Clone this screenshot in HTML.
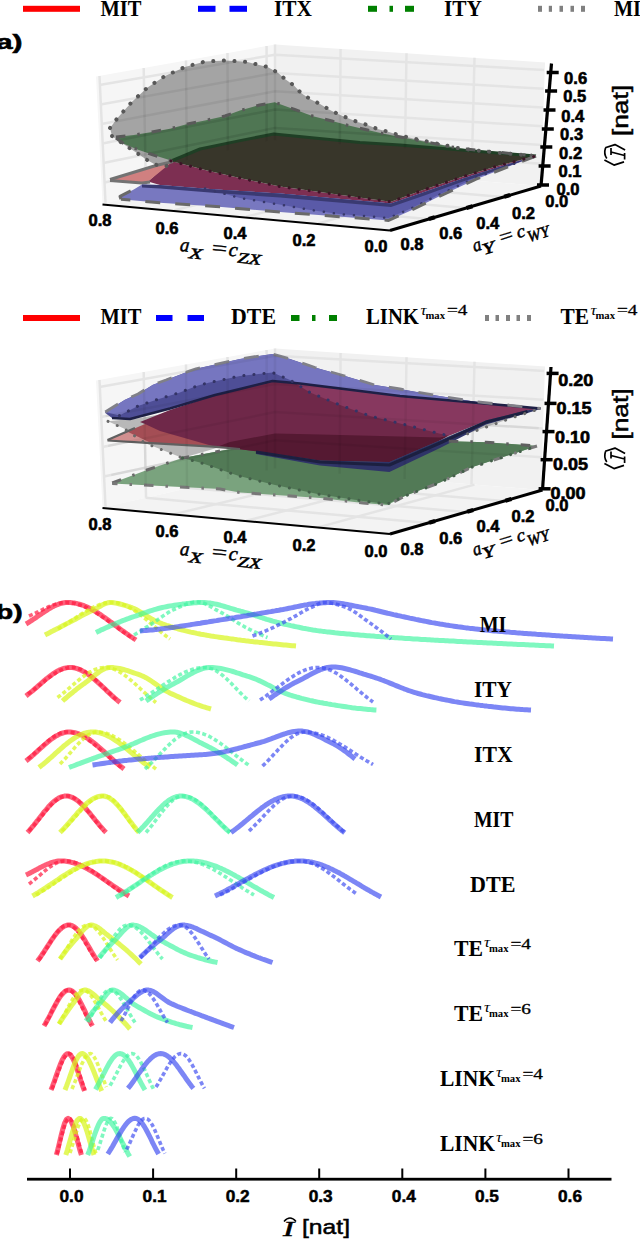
<!DOCTYPE html><html><head><meta charset="utf-8"><style>html,body{margin:0;padding:0;background:#fff;}svg{display:block;}</style></head><body>
<svg width="640" height="1240" viewBox="0 0 640 1240">
<rect x="0" y="0" width="640" height="1240" fill="#fff"/>
<rect x="23" y="5.8" width="57" height="6" fill="#ff0000"/>
<text x="100.5" y="15.5" font-family="Liberation Serif" font-weight="bold" font-size="24" textLength="41" lengthAdjust="spacingAndGlyphs">MIT</text>
<rect x="198" y="5.8" width="17.5" height="6" fill="#0000ff"/>
<rect x="229.5" y="5.8" width="17.5" height="6" fill="#0000ff"/>
<text x="274" y="15.5" font-family="Liberation Serif" font-weight="bold" font-size="24" textLength="38" lengthAdjust="spacingAndGlyphs">ITX</text>
<rect x="368" y="5.8" width="9" height="6" fill="#008000"/>
<rect x="389.5" y="5.8" width="3.5" height="6" fill="#008000"/>
<rect x="405" y="5.8" width="9" height="6" fill="#008000"/>
<text x="444" y="15.5" font-family="Liberation Serif" font-weight="bold" font-size="24" textLength="38" lengthAdjust="spacingAndGlyphs">ITY</text>
<rect x="538" y="5.8" width="4" height="6" fill="#808080"/>
<rect x="548.8" y="5.8" width="3.2" height="6" fill="#808080"/>
<rect x="559.5" y="5.8" width="3.5" height="6" fill="#808080"/>
<rect x="570.5" y="5.8" width="3.5" height="6" fill="#808080"/>
<rect x="581" y="5.8" width="4" height="6" fill="#808080"/>
<text x="614" y="15.5" font-family="Liberation Serif" font-weight="bold" font-size="24" textLength="27" lengthAdjust="spacingAndGlyphs">MI</text>
<rect x="23" y="315" width="57" height="6" fill="#ff0000"/>
<text x="100.5" y="324" font-family="Liberation Serif" font-weight="bold" font-size="24" textLength="41" lengthAdjust="spacingAndGlyphs">MIT</text>
<rect x="156" y="315" width="16.5" height="6" fill="#0000ff"/>
<rect x="187.5" y="315" width="16.5" height="6" fill="#0000ff"/>
<text x="231" y="324" font-family="Liberation Serif" font-weight="bold" font-size="24" textLength="45" lengthAdjust="spacingAndGlyphs">DTE</text>
<rect x="291" y="315" width="8.5" height="6" fill="#008000"/>
<rect x="312" y="315" width="3.5" height="6" fill="#008000"/>
<rect x="329" y="315" width="8" height="6" fill="#008000"/>
<text x="366" y="324" font-family="Liberation Serif" font-weight="bold" font-size="24" textLength="53" lengthAdjust="spacingAndGlyphs">LINK</text><text x="420.5" y="315" font-family="Liberation Serif" font-style="italic" font-size="14" textLength="6" lengthAdjust="spacingAndGlyphs">τ</text><text x="425.5" y="318.5" font-family="Liberation Serif" font-weight="bold" font-size="11" textLength="19.5" lengthAdjust="spacingAndGlyphs">max</text><text x="447" y="314.8" font-family="Liberation Serif" font-size="15" stroke="#000" stroke-width="0.3" textLength="20.5" lengthAdjust="spacingAndGlyphs">=4</text>
<rect x="485" y="315" width="4" height="6" fill="#808080"/>
<rect x="495.5" y="315" width="3.5" height="6" fill="#808080"/>
<rect x="506" y="315" width="4" height="6" fill="#808080"/>
<rect x="516.5" y="315" width="3.5" height="6" fill="#808080"/>
<rect x="527" y="315" width="4" height="6" fill="#808080"/>
<text x="560.5" y="324" font-family="Liberation Serif" font-weight="bold" font-size="24" textLength="28.5" lengthAdjust="spacingAndGlyphs">TE</text><text x="590.5" y="315" font-family="Liberation Serif" font-style="italic" font-size="14" textLength="6" lengthAdjust="spacingAndGlyphs">τ</text><text x="595.5" y="318.5" font-family="Liberation Serif" font-weight="bold" font-size="11" textLength="19.5" lengthAdjust="spacingAndGlyphs">max</text><text x="617" y="314.8" font-family="Liberation Serif" font-size="15" stroke="#000" stroke-width="0.3" textLength="20.5" lengthAdjust="spacingAndGlyphs">=4</text>
<text x="-4" y="49" font-family="Liberation Sans" font-weight="bold" font-size="21" stroke="#000" stroke-width="0.6" textLength="26.5" lengthAdjust="spacingAndGlyphs">a)</text>
<text x="-4" y="619" font-family="Liberation Sans" font-weight="bold" font-size="21" stroke="#000" stroke-width="0.6" textLength="26.5" lengthAdjust="spacingAndGlyphs">b)</text>
<polygon points="96,76.6 275,44.5 275,164.5 102.5,203.5" fill="#f6f6f6" stroke="none" stroke-width="0" />
<polygon points="275,44.5 545,62.5 541,186 275,164.5" fill="#f1f1f1" stroke="none" stroke-width="0" />
<polygon points="102.5,203.5 275,164.5 541,186 390,230" fill="#f3f3f3" stroke="none" stroke-width="0" />
<polyline points="99.5,76 105.5,202.8" fill="none" stroke="#e4e4e4" stroke-width="2.5" stroke-linecap="butt" stroke-linejoin="round" />
<polyline points="143.7,68 146,193.7" fill="none" stroke="#e4e4e4" stroke-width="2.5" stroke-linecap="butt" stroke-linejoin="round" />
<polyline points="186,60.5 187,184.4" fill="none" stroke="#e4e4e4" stroke-width="2.5" stroke-linecap="butt" stroke-linejoin="round" />
<polyline points="227.5,53 228,175.1" fill="none" stroke="#e4e4e4" stroke-width="2.5" stroke-linecap="butt" stroke-linejoin="round" />
<polyline points="266.6,46 266.6,166.4" fill="none" stroke="#e4e4e4" stroke-width="2.5" stroke-linecap="butt" stroke-linejoin="round" />
<polyline points="275,44.5 275,164.5" fill="none" stroke="#e4e4e4" stroke-width="2.5" stroke-linecap="butt" stroke-linejoin="round" />
<polyline points="340.6,48.9 339.6,169.7" fill="none" stroke="#e4e4e4" stroke-width="2.5" stroke-linecap="butt" stroke-linejoin="round" />
<polyline points="406.5,53.3 404.6,175" fill="none" stroke="#e4e4e4" stroke-width="2.5" stroke-linecap="butt" stroke-linejoin="round" />
<polyline points="474.5,57.8 471.5,180.4" fill="none" stroke="#e4e4e4" stroke-width="2.5" stroke-linecap="butt" stroke-linejoin="round" />
<polyline points="99.5,85 275,54.7 544,70" fill="none" stroke="#e4e4e4" stroke-width="2.5" stroke-linecap="butt" stroke-linejoin="round" />
<polyline points="100.5,104.5 275,73 543.5,88.8" fill="none" stroke="#e4e4e4" stroke-width="2.5" stroke-linecap="butt" stroke-linejoin="round" />
<polyline points="101.5,124 275,91.3 543,107.5" fill="none" stroke="#e4e4e4" stroke-width="2.5" stroke-linecap="butt" stroke-linejoin="round" />
<polyline points="102.4,143.5 275,109.6 542.5,126.2" fill="none" stroke="#e4e4e4" stroke-width="2.5" stroke-linecap="butt" stroke-linejoin="round" />
<polyline points="103.4,163 275,127.9 542,145" fill="none" stroke="#e4e4e4" stroke-width="2.5" stroke-linecap="butt" stroke-linejoin="round" />
<polyline points="104.4,182.5 275,146.2 541.6,163.8" fill="none" stroke="#e4e4e4" stroke-width="2.5" stroke-linecap="butt" stroke-linejoin="round" />
<polyline points="174.4,210.1 341.5,169.9" fill="none" stroke="#e4e4e4" stroke-width="2.5" stroke-linecap="butt" stroke-linejoin="round" />
<polyline points="145.6,193.8 427.8,219" fill="none" stroke="#e4e4e4" stroke-width="2.5" stroke-linecap="butt" stroke-linejoin="round" />
<polyline points="246.2,216.8 408,175.2" fill="none" stroke="#e4e4e4" stroke-width="2.5" stroke-linecap="butt" stroke-linejoin="round" />
<polyline points="188.8,184 465.5,208" fill="none" stroke="#e4e4e4" stroke-width="2.5" stroke-linecap="butt" stroke-linejoin="round" />
<polyline points="318.1,223.4 474.5,180.6" fill="none" stroke="#e4e4e4" stroke-width="2.5" stroke-linecap="butt" stroke-linejoin="round" />
<polyline points="231.9,174.2 503.2,197" fill="none" stroke="#e4e4e4" stroke-width="2.5" stroke-linecap="butt" stroke-linejoin="round" />
<polygon points="110,128 117.5,118 131.8,102 147.5,87.5 165,76 185,67 205,61.5 226,60.5 247.5,62 267.5,67 277.5,72.5 285,79 294,85.5 301,93 310,99 320,104 329,109.5 339,114.5 347.5,118 357.5,122 367.5,125 377.5,129 389,132 400,135.5 420,140 460,148.5 495,152.5 536,156 272,140 175,163 163,167 155,164.4 146.2,159.4 136.2,152.5 121.2,142.5 112,136" fill="#a4a4a4" stroke="none" stroke-width="0" />
<polygon points="116,137 133.8,135 152,131.9 170,128.8 187.5,124 205,120.5 225,116 240,110.6 259.7,105 274.7,102.2 295.3,109.7 313,116.2 332,121 348.8,125.6 367.5,130 385,134 400,137 460,148.5 536,156 536,156 400,145 360,142.5 273.8,134 240,140.6 200,149 172.5,160.5 171.2,160.5 155,155.6 137.5,149.4 123.8,143.8 116,138" fill="#4f7653" stroke="none" stroke-width="0" />
<polygon points="148,181.6 171,161 207,170.6 244,179 280,186.6 370,199 391,201.8 423,190 463,176.6 497.5,166 536,156 536,156 497.5,167.5 463,178.5 423,192.5 391,203.5 280,193.5 216,189.5 160,185" fill="#7d2f52" stroke="none" stroke-width="0" />
<polygon points="536,156 400,145 360,142.5 273.8,134 240,140.6 200,149 172.5,160.5 171,161 207,170.6 244,179 280,186.6 370,199 391,201.8 423,190 463,176.6 497.5,166 536,156" fill="#38362a" stroke="none" stroke-width="0" />
<polyline points="536,156 400,145 360,142.5 273.8,134 240,140.6 200,149 172.5,160.5" fill="none" stroke="#1f3f25" stroke-width="3" stroke-linecap="butt" stroke-linejoin="round" />
<polygon points="110,179.5 156,165.5 172,162 148,181.6 142,183" fill="#d08080" stroke="none" stroke-width="0" />
<polyline points="110,179.5 156,165.5 173,161.5" fill="none" stroke="#737373" stroke-width="3" stroke-linecap="butt" stroke-linejoin="round" />
<polyline points="110,180.5 142,183 150,182" fill="none" stroke="#737373" stroke-width="3" stroke-linecap="butt" stroke-linejoin="round" />
<polygon points="120,196.4 133.8,189.4 142,184.5 160,185 216,189.5 280,193.5 391,203.5 423,192.5 463,178.5 497.5,167.5 536,156 536,156 476,179.2 436.4,197.8 409.8,211 388.6,220.4 370,219 280,212 216,206.5 160,202.8 121,199.2" fill="#7878c0" stroke="none" stroke-width="0" />
<polygon points="160,185 216,189.5 280,193.5 391,203.5 423,192.5 463,178.5 497.5,167.5 536,156 536,156 476,177.5 436.4,196 409.8,209 388.6,218 370,216.5 339,214 307,209.4 285.6,205.6 240,198 205,188.5" fill="#5a5aa8" stroke="none" stroke-width="0" />
<polygon points="142,184.5 160,185 216,189.5 280,193.5 391,203.5 423,192.5 463,178.5 497.5,167.5 536,156 536,156 497.5,170 463,181.5 423,196 391,207 280,197.5 216,193 160,188.5 142,187.5" fill="#3a3a72" stroke="none" stroke-width="0" />
<polyline points="205,188.5 240,198 285.6,205.6 307,209.4 339,214 370,216.5 388.6,218 409.8,209 436.4,196 476,177.5 536,156" fill="none" stroke="#38386a" stroke-width="2.5" stroke-linecap="round" stroke-linejoin="round" stroke-dasharray="0.1 10" />
<clipPath id="cg"><polygon points="110,128 117.5,118 131.8,102 147.5,87.5 165,76 185,67 205,61.5 226,60.5 247.5,62 267.5,67 277.5,72.5 285,79 294,85.5 301,93 310,99 320,104 329,109.5 339,114.5 347.5,118 357.5,122 367.5,125 377.5,129 389,132 400,135.5 420,140 460,148.5 495,152.5 536,156 272,140 175,163 163,167 155,164.4 146.2,159.4 136.2,152.5 121.2,142.5 112,136"/></clipPath>
<clipPath id="cgr"><polygon points="116,137 133.8,135 152,131.9 170,128.8 187.5,124 205,120.5 225,116 240,110.6 259.7,105 274.7,102.2 295.3,109.7 313,116.2 332,121 348.8,125.6 367.5,130 385,134 400,137 460,148.5 536,156 536,156 400,145 360,142.5 273.8,134 240,140.6 200,149 172.5,160.5 171.2,160.5 155,155.6 137.5,149.4 123.8,143.8 116,138"/></clipPath>
<g clip-path="url(#cg)" stroke="#000" stroke-opacity="0.06" stroke-width="2.5" fill="none">
<polyline points="99.5,76 105.5,202.8"/>
<polyline points="143.7,68 146,193.7"/>
<polyline points="186,60.5 187,184.4"/>
<polyline points="227.5,53 228,175.1"/>
<polyline points="266.6,46 266.6,166.4"/>
<polyline points="275,44.5 275,164.5"/>
<polyline points="340.6,48.9 339.6,169.7"/>
<polyline points="406.5,53.3 404.6,175"/>
<polyline points="474.5,57.8 471.5,180.4"/>
<polyline points="99.5,85 275,54.7 544,70"/>
<polyline points="100.5,104.5 275,73 543.5,88.8"/>
<polyline points="101.5,124 275,91.3 543,107.5"/>
<polyline points="102.4,143.5 275,109.6 542.5,126.2"/>
<polyline points="103.4,163 275,127.9 542,145"/>
<polyline points="104.4,182.5 275,146.2 541.6,163.8"/>
</g>
<g clip-path="url(#cgr)" stroke="#000" stroke-opacity="0.035" stroke-width="2.5" fill="none">
<polyline points="99.5,76 105.5,202.8"/>
<polyline points="143.7,68 146,193.7"/>
<polyline points="186,60.5 187,184.4"/>
<polyline points="227.5,53 228,175.1"/>
<polyline points="266.6,46 266.6,166.4"/>
<polyline points="275,44.5 275,164.5"/>
<polyline points="340.6,48.9 339.6,169.7"/>
<polyline points="406.5,53.3 404.6,175"/>
<polyline points="474.5,57.8 471.5,180.4"/>
<polyline points="99.5,85 275,54.7 544,70"/>
<polyline points="100.5,104.5 275,73 543.5,88.8"/>
<polyline points="101.5,124 275,91.3 543,107.5"/>
<polyline points="102.4,143.5 275,109.6 542.5,126.2"/>
<polyline points="103.4,163 275,127.9 542,145"/>
<polyline points="104.4,182.5 275,146.2 541.6,163.8"/>
</g>
<polyline points="110,128 117.5,118 131.8,102 147.5,87.5 165,76 185,67 205,61.5 226,60.5 247.5,62 267.5,67 277.5,72.5 285,79 294,85.5 301,93 310,99 320,104 329,109.5 339,114.5 347.5,118 357.5,122 367.5,125 377.5,129 389,132 400,135.5 420,140 460,148.5 495,152.5 536,156" fill="none" stroke="#585858" stroke-width="4" stroke-linecap="round" stroke-linejoin="round" stroke-dasharray="0.1 10.5" />
<polyline points="112,136 121.2,142.5 136.2,152.5 146.2,159.4 155,164.4 163,167 175,163" fill="none" stroke="#585858" stroke-width="4" stroke-linecap="round" stroke-linejoin="round" stroke-dasharray="0.1 10.5" />
<polyline points="116,137 133.8,135 152,131.9 170,128.8 187.5,124 205,120.5 225,116 240,110.6 259.7,105 274.7,102.2 295.3,109.7 313,116.2 332,121 348.8,125.6 367.5,130 385,134 400,137 460,148.5 536,156" fill="none" stroke="#5a5a5a" stroke-width="3" stroke-linecap="butt" stroke-linejoin="round" stroke-dasharray="9.5 12 2.5 12" />
<polyline points="116,138 123.8,143.8 137.5,149.4 155,155.6 171.2,160.5" fill="none" stroke="#5a5a5a" stroke-width="3" stroke-linecap="butt" stroke-linejoin="round" stroke-dasharray="9.5 12 2.5 12" />
<polyline points="536,156 476,179.2 436.4,197.8 409.8,211 388.6,220.4 370,219 280,212 216,206.5 160,202.8 121,199.2" fill="none" stroke="#6a6a6a" stroke-width="3" stroke-linecap="butt" stroke-linejoin="round" stroke-dasharray="15 15" />
<polyline points="121,199.2 120,196.4 133.8,189.4" fill="none" stroke="#6a6a6a" stroke-width="3" stroke-linecap="butt" stroke-linejoin="round" stroke-dasharray="15 15" />
<polyline points="171,161 207,170.6 244,179 280,186.6 370,199 391,201.8 423,190 463,176.6 497.5,166 536,156" fill="none" stroke="#3c1426" stroke-width="3" stroke-linecap="round" stroke-linejoin="round" stroke-dasharray="0.1 10" />
<polyline points="102.5,204.5 390,230.5" fill="none" stroke="#000" stroke-width="2" stroke-linecap="butt" stroke-linejoin="round" />
<polyline points="390,230.5 541,186" fill="none" stroke="#000" stroke-width="3" stroke-linecap="butt" stroke-linejoin="round" />
<polyline points="541,186 551.5,63.5" fill="none" stroke="#000" stroke-width="3.2" stroke-linecap="butt" stroke-linejoin="round" />
<polyline points="537,185 549,185" fill="none" stroke="#000" stroke-width="3.5" stroke-linecap="butt" stroke-linejoin="round" />
<polyline points="538.6,166 550.6,166" fill="none" stroke="#000" stroke-width="3.5" stroke-linecap="butt" stroke-linejoin="round" />
<polyline points="540.3,147 552.3,147" fill="none" stroke="#000" stroke-width="3.5" stroke-linecap="butt" stroke-linejoin="round" />
<polyline points="541.8,129 553.8,129" fill="none" stroke="#000" stroke-width="3.5" stroke-linecap="butt" stroke-linejoin="round" />
<polyline points="543.5,110 555.5,110" fill="none" stroke="#000" stroke-width="3.5" stroke-linecap="butt" stroke-linejoin="round" />
<polyline points="545.1,91 557.1,91" fill="none" stroke="#000" stroke-width="3.5" stroke-linecap="butt" stroke-linejoin="round" />
<polyline points="546.7,72.5 558.7,72.5" fill="none" stroke="#000" stroke-width="3.5" stroke-linecap="butt" stroke-linejoin="round" />
<polyline points="428.8,219.1 434.8,217.3" fill="none" stroke="#000" stroke-width="4.2" stroke-linecap="butt" stroke-linejoin="round" />
<polyline points="466.5,207.9 472.5,206.2" fill="none" stroke="#000" stroke-width="4.2" stroke-linecap="butt" stroke-linejoin="round" />
<polyline points="504.2,196.8 510.2,195" fill="none" stroke="#000" stroke-width="4.2" stroke-linecap="butt" stroke-linejoin="round" />
<text x="100" y="226" font-family="Liberation Sans" font-weight="bold" font-size="16.5" text-anchor="middle" stroke="#000" stroke-width="0.6" textLength="23" lengthAdjust="spacingAndGlyphs">0.8</text>
<text x="167" y="233.5" font-family="Liberation Sans" font-weight="bold" font-size="16.5" text-anchor="middle" stroke="#000" stroke-width="0.6" textLength="23" lengthAdjust="spacingAndGlyphs">0.6</text>
<text x="235" y="239" font-family="Liberation Sans" font-weight="bold" font-size="16.5" text-anchor="middle" stroke="#000" stroke-width="0.6" textLength="23" lengthAdjust="spacingAndGlyphs">0.4</text>
<text x="304" y="246" font-family="Liberation Sans" font-weight="bold" font-size="16.5" text-anchor="middle" stroke="#000" stroke-width="0.6" textLength="23" lengthAdjust="spacingAndGlyphs">0.2</text>
<text x="376" y="252" font-family="Liberation Sans" font-weight="bold" font-size="16.5" text-anchor="middle" stroke="#000" stroke-width="0.6" textLength="23" lengthAdjust="spacingAndGlyphs">0.0</text>
<text x="412" y="250" font-family="Liberation Sans" font-weight="bold" font-size="16.5" text-anchor="middle" stroke="#000" stroke-width="0.6" textLength="23" lengthAdjust="spacingAndGlyphs">0.8</text>
<text x="450.8" y="238.5" font-family="Liberation Sans" font-weight="bold" font-size="16.5" text-anchor="middle" stroke="#000" stroke-width="0.6" textLength="23" lengthAdjust="spacingAndGlyphs">0.6</text>
<text x="487.8" y="228.5" font-family="Liberation Sans" font-weight="bold" font-size="16.5" text-anchor="middle" stroke="#000" stroke-width="0.6" textLength="23" lengthAdjust="spacingAndGlyphs">0.4</text>
<text x="523.5" y="218.5" font-family="Liberation Sans" font-weight="bold" font-size="16.5" text-anchor="middle" stroke="#000" stroke-width="0.6" textLength="23" lengthAdjust="spacingAndGlyphs">0.2</text>
<text x="556.8" y="207" font-family="Liberation Sans" font-weight="bold" font-size="16.5" text-anchor="middle" stroke="#000" stroke-width="0.6" textLength="23" lengthAdjust="spacingAndGlyphs">0.0</text>
<text x="575.6" y="84" font-family="Liberation Sans" font-weight="bold" font-size="16.5" text-anchor="middle" stroke="#000" stroke-width="0.6" textLength="23" lengthAdjust="spacingAndGlyphs">0.6</text>
<text x="574.8" y="102" font-family="Liberation Sans" font-weight="bold" font-size="16.5" text-anchor="middle" stroke="#000" stroke-width="0.6" textLength="23" lengthAdjust="spacingAndGlyphs">0.5</text>
<text x="572.8" y="122" font-family="Liberation Sans" font-weight="bold" font-size="16.5" text-anchor="middle" stroke="#000" stroke-width="0.6" textLength="23" lengthAdjust="spacingAndGlyphs">0.4</text>
<text x="571.6" y="140" font-family="Liberation Sans" font-weight="bold" font-size="16.5" text-anchor="middle" stroke="#000" stroke-width="0.6" textLength="23" lengthAdjust="spacingAndGlyphs">0.3</text>
<text x="570.6" y="158.5" font-family="Liberation Sans" font-weight="bold" font-size="16.5" text-anchor="middle" stroke="#000" stroke-width="0.6" textLength="23" lengthAdjust="spacingAndGlyphs">0.2</text>
<text x="570" y="177" font-family="Liberation Sans" font-weight="bold" font-size="16.5" text-anchor="middle" stroke="#000" stroke-width="0.6" textLength="23" lengthAdjust="spacingAndGlyphs">0.1</text>
<text x="568" y="195" font-family="Liberation Sans" font-weight="bold" font-size="16.5" text-anchor="middle" stroke="#000" stroke-width="0.6" textLength="23" lengthAdjust="spacingAndGlyphs">0.0</text>
<g transform="translate(179.5,251) rotate(5.5)">
<text x="0" y="0" font-family="Liberation Serif" font-style="italic" font-size="20" stroke="#000" stroke-width="0.5" textLength="9.4" lengthAdjust="spacingAndGlyphs">a</text>
<text x="9.6" y="6" font-family="Liberation Serif" font-style="italic" font-size="15" stroke="#000" stroke-width="0.5" textLength="13.5" lengthAdjust="spacingAndGlyphs">X</text>
<text x="32" y="0" font-family="Liberation Serif" font-style="normal" font-size="20" stroke="#000" stroke-width="0.3" textLength="15.5" lengthAdjust="spacingAndGlyphs">=</text>
<text x="49" y="0" font-family="Liberation Serif" font-style="italic" font-size="20" stroke="#000" stroke-width="0.5" textLength="9" lengthAdjust="spacingAndGlyphs">c</text>
<text x="58.3" y="6" font-family="Liberation Serif" font-style="italic" font-size="15" stroke="#000" stroke-width="0.5" textLength="24" lengthAdjust="spacingAndGlyphs">ZX</text>
</g>
<g transform="translate(474.5,250.5) rotate(-17.5)">
<text x="-0.5" y="1.5" font-family="Liberation Serif" font-style="italic" font-size="19" stroke="#000" stroke-width="0.5" textLength="8.5" lengthAdjust="spacingAndGlyphs">a</text>
<text x="7.5" y="7" font-family="Liberation Serif" font-style="italic" font-size="16" stroke="#000" stroke-width="0.5" textLength="13" lengthAdjust="spacingAndGlyphs">Y</text>
<text x="27.5" y="2" font-family="Liberation Serif" font-style="normal" font-size="20" stroke="#000" stroke-width="0.3" textLength="14" lengthAdjust="spacingAndGlyphs">=</text>
<text x="45.5" y="1.5" font-family="Liberation Serif" font-style="italic" font-size="18" stroke="#000" stroke-width="0.5" textLength="8.5" lengthAdjust="spacingAndGlyphs">c</text>
<text x="54.5" y="8.5" font-family="Liberation Serif" font-style="italic" font-size="16" stroke="#000" stroke-width="0.5" textLength="22.5" lengthAdjust="spacingAndGlyphs">WY</text>
</g>
<g transform="translate(627.5,136) rotate(-90)">
<text x="0" y="0" font-family="Liberation Sans" font-size="22" stroke="#000" stroke-width="0.5" textLength="51" lengthAdjust="spacingAndGlyphs">[nat]</text>
</g>
<g transform="translate(0,0)" fill="none" stroke="#000" stroke-width="1.7" stroke-linejoin="round">
<path d="M605.2,147.8 L615,144.6 L625.1,150 M605.5,148 Q603.5,154 606.8,158.5 M604.4,160 L614,165.1 L624,161.9 M611,148 L611,155 M611,152 L624.6,155.5 M624.6,153 L624.6,159.5"/>
</g>
<polygon points="96,380.6 275,348.5 275,468.5 102.5,507.5" fill="#f6f6f6" stroke="none" stroke-width="0" />
<polygon points="275,348.5 545,366.5 541,490 275,468.5" fill="#f1f1f1" stroke="none" stroke-width="0" />
<polygon points="102.5,507.5 275,468.5 541,490 390,534" fill="#f3f3f3" stroke="none" stroke-width="0" />
<polyline points="99.5,380 105.5,506.8" fill="none" stroke="#e4e4e4" stroke-width="2.5" stroke-linecap="butt" stroke-linejoin="round" />
<polyline points="143.7,372 146,497.7" fill="none" stroke="#e4e4e4" stroke-width="2.5" stroke-linecap="butt" stroke-linejoin="round" />
<polyline points="186,364.5 187,488.4" fill="none" stroke="#e4e4e4" stroke-width="2.5" stroke-linecap="butt" stroke-linejoin="round" />
<polyline points="227.5,357 228,479.1" fill="none" stroke="#e4e4e4" stroke-width="2.5" stroke-linecap="butt" stroke-linejoin="round" />
<polyline points="266.6,350 266.6,470.4" fill="none" stroke="#e4e4e4" stroke-width="2.5" stroke-linecap="butt" stroke-linejoin="round" />
<polyline points="275,348.5 275,468.5" fill="none" stroke="#e4e4e4" stroke-width="2.5" stroke-linecap="butt" stroke-linejoin="round" />
<polyline points="340.6,352.9 339.6,473.7" fill="none" stroke="#e4e4e4" stroke-width="2.5" stroke-linecap="butt" stroke-linejoin="round" />
<polyline points="406.5,357.3 404.6,479" fill="none" stroke="#e4e4e4" stroke-width="2.5" stroke-linecap="butt" stroke-linejoin="round" />
<polyline points="474.5,361.8 471.5,484.4" fill="none" stroke="#e4e4e4" stroke-width="2.5" stroke-linecap="butt" stroke-linejoin="round" />
<polyline points="99.4,387 275,355.7 544.1,370.9" fill="none" stroke="#e4e4e4" stroke-width="2.5" stroke-linecap="butt" stroke-linejoin="round" />
<polyline points="100.9,417 275,383.9 543.3,399.7" fill="none" stroke="#e4e4e4" stroke-width="2.5" stroke-linecap="butt" stroke-linejoin="round" />
<polyline points="102.4,447 275,412.1 542.6,428.4" fill="none" stroke="#e4e4e4" stroke-width="2.5" stroke-linecap="butt" stroke-linejoin="round" />
<polyline points="103.9,476.5 275,440.3 541.8,457.2" fill="none" stroke="#e4e4e4" stroke-width="2.5" stroke-linecap="butt" stroke-linejoin="round" />
<polyline points="174.4,514.1 341.5,473.9" fill="none" stroke="#e4e4e4" stroke-width="2.5" stroke-linecap="butt" stroke-linejoin="round" />
<polyline points="145.6,497.8 427.8,523" fill="none" stroke="#e4e4e4" stroke-width="2.5" stroke-linecap="butt" stroke-linejoin="round" />
<polyline points="246.2,520.8 408,479.2" fill="none" stroke="#e4e4e4" stroke-width="2.5" stroke-linecap="butt" stroke-linejoin="round" />
<polyline points="188.8,488 465.5,512" fill="none" stroke="#e4e4e4" stroke-width="2.5" stroke-linecap="butt" stroke-linejoin="round" />
<polyline points="318.1,527.4 474.5,484.6" fill="none" stroke="#e4e4e4" stroke-width="2.5" stroke-linecap="butt" stroke-linejoin="round" />
<polyline points="231.9,478.2 503.2,501" fill="none" stroke="#e4e4e4" stroke-width="2.5" stroke-linecap="butt" stroke-linejoin="round" />
<polygon points="112.2,483 147,470 182.5,458 220,451 240,447.5 300,444 400,440 448.8,441.2 486,442.2 537,446 537,446 471,467.5 440,482.5 406,495.6 387.5,505 363,503 320,498 240,492.5 220,489 112.2,483.5" fill="#7aa37e" stroke="none" stroke-width="0" />
<polygon points="108,421.3 140,418 240,400 540.6,408.4 514.4,417 467.5,433.8 440,442 389,462 320,461 256,451 220,447 182.5,458 145,443 124.4,428.8" fill="#b8b8b8" stroke="none" stroke-width="0" />
<polygon points="182.5,458 200,462.5 237.5,475.6 275,485 320,494.4 363,501 387.5,504 406,495.6 440,482.5 471,467.5 537,446 537,446 486,442.2 448.8,441.2 400,440 300,444 240,447.5 220,451" fill="#527a56" stroke="none" stroke-width="0" />
<polygon points="107.5,440 145,424 220,410 300,400 300,447 212.5,446.6 147,442.8" fill="#a44e55" stroke="none" stroke-width="0" />
<polygon points="107.5,440 128,432 150,442.5 130,442" fill="#d29090" stroke="none" stroke-width="0" />
<polygon points="140,422 170,410 215,395 240,389 272.5,381 400,396 540.6,408.4 540.6,408.4 527.5,410.3 486,420.6 448.8,435.6 440,440.3 389.4,462 320,460.6 256,451.2 218.8,446.6 212.5,446 160,431 145,424" fill="#6f2849" stroke="none" stroke-width="0" />
<polygon points="218,446.5 230,442 275,433.4 320,434.5 440,437.5 448,436 440,440.3 389.4,462 320,460.6 256,451.2" fill="#551932" stroke="none" stroke-width="0" />
<polygon points="272.5,381 400,396 540.6,408.4 527.5,410.3 486,420.6 448.8,435.6 448.8,435.6 440,433.8 404,424.4 370,416 340,405 310,392.5 290,380" fill="#87385f" stroke="none" stroke-width="0" />
<polygon points="256,451.2 320,460.6 389.4,462 440,440.3 486,420.6 527.5,410.3 540.6,408.4 540.6,409 527.5,413 486,424.5 440,448 389.4,472 320,465.5 256,454" fill="#2f3468" stroke="none" stroke-width="0" />
<polyline points="256,452 320,462 389.4,465 440,443 486,422 527.5,411.5" fill="none" stroke="#1c2040" stroke-width="3" stroke-linecap="butt" stroke-linejoin="round" />
<polygon points="105.3,412 125,399.7 138,394 153,384.7 166,380 183,373.4 196,368.8 213,365 240,359 272.5,354 290,359 315,367.5 345,376 375,385 400,389 430,394.4 477,401.9 540.6,408.4 540.6,408.4 400,396 300,383.5 272.5,381 240,389 215,395 170,408.5 130,419 112,418 105.3,413" fill="#4e4e96" stroke="none" stroke-width="0" />
<polygon points="105.3,412 125,399.7 138,394 153,384.7 166,380 183,373.4 196,368.8 213,365 240,359 272.5,354 290,359 315,367.5 345,376 375,385 400,389 430,394.4 477,401.9 540.6,408.4 400,396 300,383.5 290,380 272.5,372.5 240,376 208.5,382.8 198,385.6 178.5,393 158.8,399 138,406 119.4,415.6" fill="#7676c0" stroke="none" stroke-width="0" />
<polyline points="540.6,408.4 400,396 300,383.5 272.5,381 240,389 215,395 170,408.5 130,419 112,418" fill="none" stroke="#1e2046" stroke-width="2.5" stroke-linecap="butt" stroke-linejoin="round" />
<polyline points="105.3,412 125,399.7 138,394 153,384.7 166,380 183,373.4 196,368.8 213,365 240,359 272.5,354 290,359 315,367.5 345,376 375,385 400,389 430,394.4 477,401.9 540.6,408.4" fill="none" stroke="#808088" stroke-width="2.8" stroke-linecap="butt" stroke-linejoin="round" stroke-dasharray="15 15" />
<polyline points="119.4,415.6 138,406 158.8,399 178.5,393 198,385.6 208.5,382.8 240,376 272.5,372.5 290,380 310,392.5 340,405 370,416 404,424.4 440,433.8 448.8,435.6" fill="none" stroke="#343466" stroke-width="3" stroke-linecap="round" stroke-linejoin="round" stroke-dasharray="0.1 10" />
<polyline points="107.5,440 135,428" fill="none" stroke="#606060" stroke-width="2.2" stroke-linecap="butt" stroke-linejoin="round" />
<polyline points="107.5,440.5 147,442.8 212.5,446.6 240,449" fill="none" stroke="#606060" stroke-width="2.2" stroke-linecap="butt" stroke-linejoin="round" />
<polyline points="112.2,483 147,470 182.5,458 220,451" fill="none" stroke="#6a6a6a" stroke-width="3" stroke-linecap="butt" stroke-linejoin="round" stroke-dasharray="9.5 12 2.5 12" />
<polyline points="448.8,441.2 486,442.2 537,446" fill="none" stroke="#606060" stroke-width="3" stroke-linecap="butt" stroke-linejoin="round" stroke-dasharray="9.5 12 2.5 12" />
<polyline points="537,446 471,467.5 440,482.5 406,495.6 387.5,505 363,503 320,498 240,492.5 220,489 112.2,483.5" fill="none" stroke="#787878" stroke-width="3" stroke-linecap="butt" stroke-linejoin="round" stroke-dasharray="9.5 12 2.5 12" />
<polyline points="108,421.3 124.4,428.8 145,443 182.5,458" fill="none" stroke="#6a6a6a" stroke-width="3" stroke-linecap="round" stroke-linejoin="round" stroke-dasharray="0.1 10" />
<polyline points="182.5,458 200,462.5 237.5,475.6 275,485 320,494.4 363,501 387.5,504 406,495.6 440,482.5 471,467.5 537,446" fill="none" stroke="#44604a" stroke-width="3" stroke-linecap="round" stroke-linejoin="round" stroke-dasharray="0.1 10" />
<polyline points="467.5,433.8 514.4,417 540.6,408.4" fill="none" stroke="#6a6a6a" stroke-width="3" stroke-linecap="round" stroke-linejoin="round" stroke-dasharray="0.1 10" />
<clipPath id="cb"><polygon points="105.3,412 125,399.7 138,394 153,384.7 166,380 183,373.4 196,368.8 213,365 240,359 272.5,354 290,359 315,367.5 345,376 375,385 400,389 430,394.4 477,401.9 540.6,408.4 537,446 471,467.5 440,482.5 406,495.6 387.5,505 363,503 320,498 240,492.5 220,489 112.2,483.5 107.5,440 105.3,412"/></clipPath>
<g clip-path="url(#cb)" stroke="#000" stroke-opacity="0.05" stroke-width="2.5" fill="none">
<polyline points="99.5,380 105.5,506.8"/>
<polyline points="143.7,372 146,497.7"/>
<polyline points="186,364.5 187,488.4"/>
<polyline points="227.5,357 228,479.1"/>
<polyline points="266.6,350 266.6,470.4"/>
<polyline points="275,348.5 275,468.5"/>
<polyline points="340.6,352.9 339.6,473.7"/>
<polyline points="406.5,357.3 404.6,479"/>
<polyline points="474.5,361.8 471.5,484.4"/>
<polyline points="99.4,387 275,355.7 544.1,370.9"/>
<polyline points="100.9,417 275,383.9 543.3,399.7"/>
<polyline points="102.4,447 275,412.1 542.6,428.4"/>
<polyline points="103.9,476.5 275,440.3 541.8,457.2"/>
</g>
<polyline points="102.5,508 390,534" fill="none" stroke="#000" stroke-width="2" stroke-linecap="butt" stroke-linejoin="round" />
<polyline points="390,534 542.5,490" fill="none" stroke="#000" stroke-width="3" stroke-linecap="butt" stroke-linejoin="round" />
<polyline points="542.5,490 551,367" fill="none" stroke="#000" stroke-width="3.2" stroke-linecap="butt" stroke-linejoin="round" />
<polyline points="538.6,488.8 550.6,488.8" fill="none" stroke="#000" stroke-width="3.5" stroke-linecap="butt" stroke-linejoin="round" />
<polyline points="540.6,459.7 552.6,459.7" fill="none" stroke="#000" stroke-width="3.5" stroke-linecap="butt" stroke-linejoin="round" />
<polyline points="542.5,431.6 554.5,431.6" fill="none" stroke="#000" stroke-width="3.5" stroke-linecap="butt" stroke-linejoin="round" />
<polyline points="544.5,403.4 556.5,403.4" fill="none" stroke="#000" stroke-width="3.5" stroke-linecap="butt" stroke-linejoin="round" />
<polyline points="546.6,373.4 558.6,373.4" fill="none" stroke="#000" stroke-width="3.5" stroke-linecap="butt" stroke-linejoin="round" />
<polyline points="429.1,522.7 435.1,520.9" fill="none" stroke="#000" stroke-width="4.2" stroke-linecap="butt" stroke-linejoin="round" />
<polyline points="467.2,511.7 473.2,509.9" fill="none" stroke="#000" stroke-width="4.2" stroke-linecap="butt" stroke-linejoin="round" />
<polyline points="505.4,500.7 511.4,498.9" fill="none" stroke="#000" stroke-width="4.2" stroke-linecap="butt" stroke-linejoin="round" />
<text x="100" y="530" font-family="Liberation Sans" font-weight="bold" font-size="16.5" text-anchor="middle" stroke="#000" stroke-width="0.6" textLength="23" lengthAdjust="spacingAndGlyphs">0.8</text>
<text x="167" y="537" font-family="Liberation Sans" font-weight="bold" font-size="16.5" text-anchor="middle" stroke="#000" stroke-width="0.6" textLength="23" lengthAdjust="spacingAndGlyphs">0.6</text>
<text x="235" y="543" font-family="Liberation Sans" font-weight="bold" font-size="16.5" text-anchor="middle" stroke="#000" stroke-width="0.6" textLength="23" lengthAdjust="spacingAndGlyphs">0.4</text>
<text x="304" y="551" font-family="Liberation Sans" font-weight="bold" font-size="16.5" text-anchor="middle" stroke="#000" stroke-width="0.6" textLength="23" lengthAdjust="spacingAndGlyphs">0.2</text>
<text x="376" y="557" font-family="Liberation Sans" font-weight="bold" font-size="16.5" text-anchor="middle" stroke="#000" stroke-width="0.6" textLength="23" lengthAdjust="spacingAndGlyphs">0.0</text>
<text x="412" y="555" font-family="Liberation Sans" font-weight="bold" font-size="16.5" text-anchor="middle" stroke="#000" stroke-width="0.6" textLength="23" lengthAdjust="spacingAndGlyphs">0.8</text>
<text x="450.8" y="543.5" font-family="Liberation Sans" font-weight="bold" font-size="16.5" text-anchor="middle" stroke="#000" stroke-width="0.6" textLength="23" lengthAdjust="spacingAndGlyphs">0.6</text>
<text x="488" y="532" font-family="Liberation Sans" font-weight="bold" font-size="16.5" text-anchor="middle" stroke="#000" stroke-width="0.6" textLength="23" lengthAdjust="spacingAndGlyphs">0.4</text>
<text x="523" y="522" font-family="Liberation Sans" font-weight="bold" font-size="16.5" text-anchor="middle" stroke="#000" stroke-width="0.6" textLength="23" lengthAdjust="spacingAndGlyphs">0.2</text>
<text x="557" y="511" font-family="Liberation Sans" font-weight="bold" font-size="16.5" text-anchor="middle" stroke="#000" stroke-width="0.6" textLength="23" lengthAdjust="spacingAndGlyphs">0.0</text>
<text x="575.7" y="386" font-family="Liberation Sans" font-weight="bold" font-size="16.5" text-anchor="middle" stroke="#000" stroke-width="0.6" textLength="35" lengthAdjust="spacingAndGlyphs">0.20</text>
<text x="574" y="414" font-family="Liberation Sans" font-weight="bold" font-size="16.5" text-anchor="middle" stroke="#000" stroke-width="0.6" textLength="35" lengthAdjust="spacingAndGlyphs">0.15</text>
<text x="572.5" y="443" font-family="Liberation Sans" font-weight="bold" font-size="16.5" text-anchor="middle" stroke="#000" stroke-width="0.6" textLength="35" lengthAdjust="spacingAndGlyphs">0.10</text>
<text x="570.5" y="470" font-family="Liberation Sans" font-weight="bold" font-size="16.5" text-anchor="middle" stroke="#000" stroke-width="0.6" textLength="35" lengthAdjust="spacingAndGlyphs">0.05</text>
<text x="568" y="498.5" font-family="Liberation Sans" font-weight="bold" font-size="16.5" text-anchor="middle" stroke="#000" stroke-width="0.6" textLength="35" lengthAdjust="spacingAndGlyphs">0.00</text>
<g transform="translate(179.5,555) rotate(5.5)">
<text x="0" y="0" font-family="Liberation Serif" font-style="italic" font-size="20" stroke="#000" stroke-width="0.5" textLength="9.4" lengthAdjust="spacingAndGlyphs">a</text>
<text x="9.6" y="6" font-family="Liberation Serif" font-style="italic" font-size="15" stroke="#000" stroke-width="0.5" textLength="13.5" lengthAdjust="spacingAndGlyphs">X</text>
<text x="32" y="0" font-family="Liberation Serif" font-style="normal" font-size="20" stroke="#000" stroke-width="0.3" textLength="15.5" lengthAdjust="spacingAndGlyphs">=</text>
<text x="49" y="0" font-family="Liberation Serif" font-style="italic" font-size="20" stroke="#000" stroke-width="0.5" textLength="9" lengthAdjust="spacingAndGlyphs">c</text>
<text x="58.3" y="6" font-family="Liberation Serif" font-style="italic" font-size="15" stroke="#000" stroke-width="0.5" textLength="24" lengthAdjust="spacingAndGlyphs">ZX</text>
</g>
<g transform="translate(474.5,554.5) rotate(-17.5)">
<text x="-0.5" y="1.5" font-family="Liberation Serif" font-style="italic" font-size="19" stroke="#000" stroke-width="0.5" textLength="8.5" lengthAdjust="spacingAndGlyphs">a</text>
<text x="7.5" y="7" font-family="Liberation Serif" font-style="italic" font-size="16" stroke="#000" stroke-width="0.5" textLength="13" lengthAdjust="spacingAndGlyphs">Y</text>
<text x="27.5" y="2" font-family="Liberation Serif" font-style="normal" font-size="20" stroke="#000" stroke-width="0.3" textLength="14" lengthAdjust="spacingAndGlyphs">=</text>
<text x="45.5" y="1.5" font-family="Liberation Serif" font-style="italic" font-size="18" stroke="#000" stroke-width="0.5" textLength="8.5" lengthAdjust="spacingAndGlyphs">c</text>
<text x="54.5" y="8.5" font-family="Liberation Serif" font-style="italic" font-size="16" stroke="#000" stroke-width="0.5" textLength="22.5" lengthAdjust="spacingAndGlyphs">WY</text>
</g>
<g transform="translate(627.5,439.5) rotate(-90)">
<text x="0" y="0" font-family="Liberation Sans" font-size="22" stroke="#000" stroke-width="0.5" textLength="51" lengthAdjust="spacingAndGlyphs">[nat]</text>
</g>
<g transform="translate(0,303.5)" fill="none" stroke="#000" stroke-width="1.7" stroke-linejoin="round">
<path d="M605.2,147.8 L615,144.6 L625.1,150 M605.5,148 Q603.5,154 606.8,158.5 M604.4,160 L614,165.1 L624,161.9 M611,148 L611,155 M611,152 L624.6,155.5 M624.6,153 L624.6,159.5"/>
</g>
<polyline points="26,624 27.5,623.1 29.1,622.1 30.6,621.2 32.1,620.2 33.6,619.1 35.2,618.1 36.7,617.1 38.2,616 39.8,614.9 41.3,613.9 42.8,612.8 44.3,611.8 45.9,610.8 47.4,609.8 48.9,608.9 50.4,608 52,607.1 53.5,606.4 55,605.6 56.6,605 58.1,604.4 59.6,603.8 61.1,603.4 62.7,603 64.2,602.8 65.7,602.6 67.2,602.5 68.8,602.5 70.3,602.6 71.8,602.7 73.4,602.9 74.9,603.1 76.4,603.4 77.9,603.8 79.5,604.2 81,604.6 82.5,605.2 84.1,605.7 85.6,606.4 87.1,607 88.6,607.8 90.2,608.5 91.7,609.3 93.2,610.2 94.8,611.1 96.3,612 97.8,612.9 99.3,613.9 100.9,614.9 102.4,616 103.9,617 105.4,618.1 107,619.2 108.5,620.3 110,621.4 111.6,622.6 113.1,623.7 114.6,624.8 116.1,626 117.7,627.1 119.2,628.3 120.7,629.4 122.2,630.5 123.8,631.6 125.3,632.7 126.8,633.8 128.4,634.9 129.9,636 131.4,637 132.9,638 134.5,639 136,640" fill="none" stroke="#ff1a40" stroke-opacity="0.7" stroke-width="5" stroke-linejoin="round"/>
<polyline points="29,616 30.5,615.3 32,614.7 33.6,614 35.1,613.3 36.6,612.5 38.1,611.8 39.7,611 41.2,610.3 42.7,609.5 44.2,608.8 45.7,608.1 47.3,607.4 48.8,606.7 50.3,606 51.8,605.4 53.3,604.9 54.9,604.4 56.4,603.9 57.9,603.5 59.4,603.2 61,602.9 62.5,602.7 64,602.6 65.5,602.5 67,602.5 68.6,602.6 70.1,602.7 71.6,602.9 73.1,603.1 74.7,603.4 76.2,603.8 77.7,604.2 79.2,604.7 80.7,605.2 82.3,605.7 83.8,606.3 85.3,607 86.8,607.7 88.3,608.5 89.9,609.2 91.4,610.1 92.9,610.9 94.4,611.8 96,612.8 97.5,613.7 99,614.7 100.5,615.7 102,616.7 103.6,617.8 105.1,618.8 106.6,619.9 108.1,621 109.7,622.1 111.2,623.2 112.7,624.3 114.2,625.4 115.7,626.5 117.3,627.6 118.8,628.7 120.3,629.8 121.8,630.9 123.3,632 124.9,633 126.4,634.1 127.9,635.1 129.4,636.1 131,637.1 132.5,638.1 134,639" fill="none" stroke="#ff1a40" stroke-opacity="0.7" stroke-width="3.6" stroke-linejoin="round" stroke-dasharray="4 2.5"/>
<polyline points="45,635 47,633.9 49,632.9 51.1,631.8 53.1,630.8 55.1,629.7 57.1,628.7 59.2,627.6 61.2,626.6 63.2,625.5 65.2,624.5 67.3,623.4 69.3,622.4 71.3,621.3 73.3,620.2 75.4,619.2 77.4,618.1 79.4,617 81.4,615.9 83.5,614.8 85.5,613.8 87.5,612.7 89.5,611.7 91.6,610.7 93.6,609.7 95.6,608.7 97.6,607.6 99.7,606.5 101.7,605.3 103.7,604.3 105.7,603.4 107.8,602.8 109.8,602.5 111.8,602.6 113.8,602.7 115.8,603.1 117.9,603.5 119.9,604 121.9,604.5 123.9,605.1 126,605.7 128,606.4 130,607 132,607.7 134.1,608.6 136.1,609.5 138.1,610.6 140.1,611.8 142.2,613 144.2,614.3 146.2,615.5 148.2,616.8 150.3,618.1 152.3,619.3 154.3,620.4 156.3,621.4 158.4,622.3 160.4,623.1 162.4,623.9 164.4,624.6 166.5,625.3 168.5,625.9 170.5,626.6 172.5,627.2 174.5,627.8 176.6,628.4 178.6,629 180.6,629.5 182.6,630.1 184.7,630.6 186.7,631.1 188.7,631.6 190.7,632.1 192.8,632.5 194.8,632.9 196.8,633.4 198.8,633.8 200.9,634.2 202.9,634.5 204.9,634.9 206.9,635.3 209,635.6 211,636 213,636.3 215,636.6 217.1,636.9 219.1,637.2 221.1,637.5 223.1,637.8 225.2,638.1 227.2,638.3 229.2,638.6 231.2,638.9 233.3,639.1 235.3,639.4 237.3,639.7 239.3,639.9 241.3,640.2 243.4,640.4 245.4,640.7 247.4,640.9 249.4,641.2 251.5,641.4 253.5,641.7 255.5,641.9 257.5,642.1 259.6,642.4 261.6,642.6 263.6,642.8 265.6,643 267.7,643.3 269.7,643.5 271.7,643.7 273.7,643.9 275.8,644.1 277.8,644.3 279.8,644.5 281.8,644.7 283.9,644.9 285.9,645.1 287.9,645.3 289.9,645.5 292,645.7 294,645.8 296,646" fill="none" stroke="#d8f51e" stroke-opacity="0.72" stroke-width="5" stroke-linejoin="round"/>
<polyline points="58,629 59.5,628.1 61.1,627.2 62.6,626.3 64.1,625.4 65.7,624.4 67.2,623.4 68.7,622.4 70.3,621.4 71.8,620.4 73.3,619.4 74.9,618.4 76.4,617.3 77.9,616.3 79.5,615.3 81,614.3 82.5,613.4 84.1,612.4 85.6,611.5 87.2,610.6 88.7,609.7 90.2,608.8 91.8,608 93.3,607.3 94.8,606.6 96.4,605.9 97.9,605.3 99.4,604.7 101,604.2 102.5,603.8 104,603.4 105.6,603.1 107.1,602.8 108.6,602.7 110.2,602.5 111.7,602.5 113.2,602.5 114.8,602.6 116.3,602.8 117.8,603.1 119.4,603.4 120.9,603.9 122.4,604.4 124,604.9 125.5,605.6 127,606.3 128.6,607.1 130.1,607.9 131.6,608.8 133.2,609.8 134.7,610.8 136.2,611.8 137.8,612.9 139.3,614.1 140.8,615.2 142.4,616.4 143.9,617.7 145.5,618.9 147,620.2 148.5,621.5 150.1,622.8 151.6,624.1 153.1,625.4 154.7,626.7 156.2,628 157.7,629.3 159.3,630.6 160.8,631.9 162.3,633.1 163.9,634.3 165.4,635.5 166.9,636.7 168.5,637.9 170,639" fill="none" stroke="#d8f51e" stroke-opacity="0.72" stroke-width="3.6" stroke-linejoin="round" stroke-dasharray="4 2.5"/>
<polyline points="96,632.5 98,631.5 100,630.6 102,629.6 104,628.7 106,627.8 108.1,626.9 110.1,626 112.1,625.1 114.1,624.2 116.1,623.4 118.1,622.6 120.1,621.7 122.1,620.9 124.1,620.2 126.1,619.4 128.1,618.7 130.1,617.9 132.2,617.2 134.2,616.5 136.2,615.8 138.2,615.1 140.2,614.4 142.2,613.6 144.2,612.9 146.2,612.3 148.2,611.6 150.2,610.9 152.2,610.3 154.3,609.7 156.3,609.1 158.3,608.5 160.3,608 162.3,607.5 164.3,607.1 166.3,606.7 168.3,606.3 170.3,605.9 172.3,605.6 174.3,605.3 176.4,605 178.4,604.7 180.4,604.4 182.4,604.1 184.4,603.9 186.4,603.6 188.4,603.4 190.4,603.2 192.4,603 194.4,602.8 196.4,602.7 198.4,602.6 200.5,602.5 202.5,602.5 204.5,602.5 206.5,602.7 208.5,602.9 210.5,603.1 212.5,603.5 214.5,603.9 216.5,604.3 218.5,604.8 220.5,605.3 222.6,605.9 224.6,606.5 226.6,607.1 228.6,607.7 230.6,608.3 232.6,608.9 234.6,609.5 236.6,610.1 238.6,610.6 240.6,611.2 242.6,611.7 244.6,612.3 246.7,612.9 248.7,613.5 250.7,614.1 252.7,614.7 254.7,615.4 256.7,616 258.7,616.7 260.7,617.3 262.7,618 264.7,618.6 266.7,619.3 268.8,619.9 270.8,620.5 272.8,621.1 274.8,621.6 276.8,622.2 278.8,622.7 280.8,623.2 282.8,623.7 284.8,624.2 286.8,624.6 288.8,625.1 290.9,625.6 292.9,626 294.9,626.5 296.9,626.9 298.9,627.3 300.9,627.7 302.9,628.2 304.9,628.5 306.9,628.9 308.9,629.3 310.9,629.6 312.9,630 315,630.3 317,630.6 319,630.9 321,631.1 323,631.4 325,631.6 327,631.9 329,632.1 331,632.3 333,632.5 335,632.8 337.1,633 339.1,633.2 341.1,633.4 343.1,633.6 345.1,633.8 347.1,634 349.1,634.1 351.1,634.3 353.1,634.5 355.1,634.7 357.1,634.8 359.1,635 361.2,635.2 363.2,635.3 365.2,635.5 367.2,635.7 369.2,635.8 371.2,636 373.2,636.1 375.2,636.3 377.2,636.4 379.2,636.6 381.2,636.7 383.3,636.8 385.3,637 387.3,637.1 389.3,637.3 391.3,637.4 393.3,637.5 395.3,637.7 397.3,637.8 399.3,638 401.3,638.1 403.3,638.2 405.4,638.4 407.4,638.5 409.4,638.6 411.4,638.7 413.4,638.9 415.4,639 417.4,639.1 419.4,639.2 421.4,639.4 423.4,639.5 425.4,639.6 427.4,639.7 429.5,639.8 431.5,639.9 433.5,640.1 435.5,640.2 437.5,640.3 439.5,640.4 441.5,640.5 443.5,640.6 445.5,640.7 447.5,640.8 449.5,640.9 451.6,641 453.6,641.1 455.6,641.2 457.6,641.4 459.6,641.5 461.6,641.6 463.6,641.7 465.6,641.8 467.6,641.9 469.6,642 471.6,642.1 473.6,642.2 475.7,642.3 477.7,642.4 479.7,642.5 481.7,642.6 483.7,642.7 485.7,642.8 487.7,642.9 489.7,643 491.7,643.1 493.7,643.2 495.7,643.3 497.8,643.4 499.8,643.5 501.8,643.6 503.8,643.7 505.8,643.8 507.8,643.9 509.8,644 511.8,644.1 513.8,644.2 515.8,644.3 517.8,644.4 519.9,644.5 521.9,644.6 523.9,644.6 525.9,644.7 527.9,644.8 529.9,644.9 531.9,645 533.9,645.1 535.9,645.2 537.9,645.3 539.9,645.4 541.9,645.5 544,645.6 546,645.7 548,645.7 550,645.8 552,645.9 554,646" fill="none" stroke="#3cf5a0" stroke-opacity="0.66" stroke-width="5" stroke-linejoin="round"/>
<polyline points="134,635 136.1,633.7 138.1,632.5 140.2,631.2 142.2,629.9 144.3,628.6 146.3,627.3 148.4,626 150.4,624.7 152.5,623.4 154.5,622 156.6,620.5 158.6,619.1 160.7,617.6 162.8,616.1 164.8,614.7 166.9,613.4 168.9,612.1 171,610.9 173,609.9 175.1,609 177.1,608.1 179.2,607.2 181.2,606.3 183.3,605.5 185.3,604.7 187.4,603.9 189.5,603.3 191.5,602.7 193.6,602.3 195.6,602.1 197.7,602 199.7,602.2 201.8,602.6 203.8,603.3 205.9,604.1 207.9,605.1 210,606.3 212,607.4 214.1,608.7 216.2,609.9 218.2,611 220.3,612.1 222.3,613.2 224.4,614.4 226.4,615.6 228.5,616.9 230.5,618.2 232.6,619.5 234.6,620.8 236.7,622.1 238.7,623.4 240.8,624.6 242.9,625.8 244.9,627 247,628 249,629.1 251.1,630.1 253.1,631.1 255.2,632.1 257.2,633 259.3,634 261.3,634.9 263.4,635.8 265.4,636.7 267.5,637.5" fill="none" stroke="#3cf5a0" stroke-opacity="0.66" stroke-width="3.6" stroke-linejoin="round" stroke-dasharray="4 2.5"/>
<polyline points="140,631 142,630.8 144,630.6 146,630.5 148.1,630.3 150.1,630.1 152.1,629.9 154.1,629.7 156.1,629.4 158.1,629.2 160.1,629 162.1,628.7 164.2,628.5 166.2,628.2 168.2,628 170.2,627.7 172.2,627.4 174.2,627.2 176.2,626.9 178.2,626.6 180.3,626.3 182.3,626 184.3,625.7 186.3,625.4 188.3,625.1 190.3,624.8 192.3,624.4 194.3,624.1 196.4,623.8 198.4,623.5 200.4,623.2 202.4,622.8 204.4,622.5 206.4,622.2 208.4,621.9 210.4,621.5 212.5,621.2 214.5,620.9 216.5,620.6 218.5,620.2 220.5,619.9 222.5,619.6 224.5,619.3 226.5,619 228.6,618.6 230.6,618.3 232.6,618 234.6,617.7 236.6,617.3 238.6,617 240.6,616.7 242.7,616.3 244.7,616 246.7,615.7 248.7,615.3 250.7,615 252.7,614.6 254.7,614.3 256.7,614 258.8,613.6 260.8,613.3 262.8,612.9 264.8,612.6 266.8,612.3 268.8,611.9 270.8,611.6 272.8,611.2 274.9,610.9 276.9,610.5 278.9,610.2 280.9,609.8 282.9,609.5 284.9,609.1 286.9,608.7 288.9,608.3 291,607.9 293,607.5 295,607 297,606.6 299,606.2 301,605.8 303,605.4 305,605 307.1,604.7 309.1,604.3 311.1,604 313.1,603.7 315.1,603.5 317.1,603.2 319.1,603.1 321.1,602.9 323.2,602.8 325.2,602.7 327.2,602.6 329.2,602.5 331.2,602.5 333.2,602.6 335.2,602.7 337.3,602.9 339.3,603.2 341.3,603.5 343.3,603.8 345.3,604.1 347.3,604.5 349.3,604.9 351.3,605.3 353.4,605.7 355.4,606.1 357.4,606.5 359.4,606.9 361.4,607.3 363.4,607.6 365.4,608 367.4,608.5 369.5,608.9 371.5,609.3 373.5,609.8 375.5,610.3 377.5,610.7 379.5,611.2 381.5,611.7 383.5,612.2 385.6,612.7 387.6,613.2 389.6,613.6 391.6,614.1 393.6,614.6 395.6,615 397.6,615.5 399.6,615.9 401.7,616.4 403.7,616.8 405.7,617.2 407.7,617.6 409.7,618.1 411.7,618.5 413.7,618.9 415.7,619.4 417.8,619.8 419.8,620.2 421.8,620.6 423.8,621 425.8,621.4 427.8,621.8 429.8,622.2 431.9,622.6 433.9,622.9 435.9,623.3 437.9,623.6 439.9,624 441.9,624.3 443.9,624.6 445.9,625 448,625.3 450,625.6 452,625.9 454,626.2 456,626.5 458,626.8 460,627 462,627.3 464.1,627.6 466.1,627.9 468.1,628.1 470.1,628.4 472.1,628.6 474.1,628.8 476.1,629.1 478.1,629.3 480.2,629.5 482.2,629.7 484.2,629.9 486.2,630.1 488.2,630.3 490.2,630.5 492.2,630.7 494.2,630.9 496.3,631.1 498.3,631.3 500.3,631.4 502.3,631.6 504.3,631.8 506.3,632 508.3,632.1 510.3,632.3 512.4,632.4 514.4,632.6 516.4,632.8 518.4,632.9 520.4,633.1 522.4,633.2 524.4,633.4 526.5,633.5 528.5,633.7 530.5,633.8 532.5,634 534.5,634.1 536.5,634.3 538.5,634.4 540.5,634.5 542.6,634.7 544.6,634.8 546.6,635 548.6,635.1 550.6,635.2 552.6,635.4 554.6,635.5 556.6,635.7 558.7,635.8 560.7,635.9 562.7,636.1 564.7,636.2 566.7,636.3 568.7,636.5 570.7,636.6 572.7,636.7 574.8,636.8 576.8,637 578.8,637.1 580.8,637.2 582.8,637.3 584.8,637.5 586.8,637.6 588.8,637.7 590.9,637.8 592.9,637.9 594.9,638 596.9,638.2 598.9,638.3 600.9,638.4 602.9,638.5 604.9,638.6 607,638.7 609,638.8 611,638.9 613,639" fill="none" stroke="#3848f0" stroke-opacity="0.66" stroke-width="5" stroke-linejoin="round"/>
<polyline points="252.5,636 254.5,635.3 256.6,634.5 258.6,633.7 260.6,632.9 262.7,632.1 264.7,631.3 266.8,630.4 268.8,629.5 270.8,628.6 272.9,627.7 274.9,626.7 276.9,625.7 279,624.7 281,623.7 283.1,622.6 285.1,621.6 287.1,620.5 289.2,619.4 291.2,618.4 293.2,617.2 295.3,616.1 297.3,614.9 299.3,613.7 301.4,612.5 303.4,611.3 305.5,610.2 307.5,609.2 309.5,608.2 311.6,607.3 313.6,606.3 315.6,605.3 317.7,604.4 319.7,603.5 321.8,602.9 323.8,602.6 325.8,602.5 327.9,602.6 329.9,602.9 331.9,603.2 334,603.7 336,604.2 338,604.8 340.1,605.4 342.1,606.1 344.2,606.7 346.2,607.4 348.2,608.3 350.3,609.3 352.3,610.4 354.3,611.7 356.4,613.1 358.4,614.5 360.4,616 362.5,617.5 364.5,619 366.6,620.5 368.6,622 370.6,623.4 372.7,624.9 374.7,626.4 376.7,627.9 378.8,629.4 380.8,630.9 382.9,632.5 384.9,634.1 386.9,635.7 389,637.3 391,639" fill="none" stroke="#3848f0" stroke-opacity="0.66" stroke-width="3.6" stroke-linejoin="round" stroke-dasharray="4 2.5"/>
<polyline points="26,696 27.5,694.8 29.1,693.6 30.6,692.4 32.2,691.1 33.7,689.8 35.2,688.5 36.8,687.2 38.3,685.8 39.9,684.5 41.4,683.1 43,681.8 44.5,680.4 46,679.1 47.6,677.9 49.1,676.7 50.7,675.5 52.2,674.4 53.7,673.3 55.3,672.3 56.8,671.4 58.4,670.6 59.9,669.8 61.4,669.2 63,668.6 64.5,668.2 66.1,667.9 67.6,667.6 69.1,667.5 70.7,667.5 72.2,667.6 73.8,667.8 75.3,668.1 76.9,668.5 78.4,669.1 79.9,669.7 81.5,670.4 83,671.2 84.6,672 86.1,673 87.6,674 89.2,675.1 90.7,676.3 92.3,677.5 93.8,678.8 95.3,680.1 96.9,681.5 98.4,682.9 100,684.3 101.5,685.7 103,687.2 104.6,688.6 106.1,690.1 107.7,691.6 109.2,693 110.8,694.4 112.3,695.9 113.8,697.3 115.4,698.6 116.9,699.9 118.5,701.2 120,702.5" fill="none" stroke="#ff1a40" stroke-opacity="0.7" stroke-width="5" stroke-linejoin="round"/>
<polyline points="28,694 29.5,692.9 31.1,691.8 32.6,690.7 34.1,689.5 35.6,688.3 37.2,687.1 38.7,685.9 40.2,684.6 41.7,683.4 43.3,682.1 44.8,680.9 46.3,679.7 47.8,678.5 49.4,677.3 50.9,676.2 52.4,675.1 53.9,674.1 55.5,673.1 57,672.1 58.5,671.3 60,670.5 61.6,669.8 63.1,669.2 64.6,668.7 66.1,668.2 67.7,667.9 69.2,667.7 70.7,667.5 72.2,667.5 73.8,667.6 75.3,667.8 76.8,668.1 78.3,668.5 79.9,669 81.4,669.7 82.9,670.4 84.4,671.3 86,672.2 87.5,673.2 89,674.3 90.5,675.5 92.1,676.7 93.6,678.1 95.1,679.4 96.6,680.8 98.2,682.2 99.7,683.7 101.2,685.2 102.7,686.7 104.3,688.2 105.8,689.7 107.3,691.2 108.8,692.7 110.4,694.1 111.9,695.6 113.4,697 114.9,698.4 116.5,699.7 118,701" fill="none" stroke="#ff1a40" stroke-opacity="0.7" stroke-width="3.6" stroke-linejoin="round" stroke-dasharray="4 2.5"/>
<polyline points="62.5,701 64.5,699.2 66.6,697.5 68.6,695.7 70.6,694 72.7,692.4 74.7,690.7 76.7,689.1 78.8,687.5 80.8,686 82.8,684.5 84.9,683.1 86.9,681.6 88.9,680 91,678.3 93,676.7 95,675 97.1,673.4 99.1,671.9 101.2,670.5 103.2,669.4 105.2,668.5 107.3,667.8 109.3,667.5 111.3,667.5 113.4,667.6 115.4,667.9 117.4,668.2 119.5,668.5 121.5,669 123.5,669.5 125.6,670.1 127.6,670.7 129.6,671.4 131.7,672.1 133.7,672.8 135.7,673.5 137.8,674.2 139.8,674.9 141.8,675.7 143.9,676.6 145.9,677.7 147.9,678.9 150,680.2 152,681.5 154,682.9 156.1,684.3 158.1,685.7 160.1,687.1 162.2,688.5 164.2,689.8 166.2,691 168.3,692.1 170.3,693.2 172.3,694.1 174.4,695.1 176.4,696 178.5,696.9 180.5,697.8 182.5,698.7 184.6,699.6 186.6,700.5 188.6,701.3 190.7,702.1 192.7,702.9 194.7,703.7 196.8,704.5 198.8,705.2 200.8,705.9 202.9,706.6 204.9,707.2 206.9,707.8 209,708.4 211,709" fill="none" stroke="#d8f51e" stroke-opacity="0.72" stroke-width="5" stroke-linejoin="round"/>
<polyline points="57.5,697.5 59,696.4 60.6,695.2 62.1,694 63.7,692.8 65.2,691.5 66.7,690.2 68.3,688.9 69.8,687.6 71.4,686.3 72.9,685 74.4,683.7 76,682.4 77.5,681.1 79,679.8 80.6,678.6 82.1,677.4 83.7,676.2 85.2,675.1 86.7,674.1 88.3,673.1 89.8,672.1 91.4,671.3 92.9,670.5 94.4,669.8 96,669.2 97.5,668.7 99.1,668.2 100.6,667.9 102.1,667.7 103.7,667.5 105.2,667.5 106.8,667.6 108.3,667.7 109.8,668 111.4,668.4 112.9,668.8 114.4,669.4 116,670 117.5,670.8 119.1,671.6 120.6,672.5 122.1,673.5 123.7,674.5 125.2,675.6 126.8,676.8 128.3,678 129.8,679.3 131.4,680.6 132.9,681.9 134.5,683.3 136,684.7 137.5,686.1 139.1,687.5 140.6,689 142.1,690.4 143.7,691.8 145.2,693.2 146.8,694.6 148.3,696 149.8,697.4 151.4,698.7 152.9,700 154.5,701.3 156,702.5" fill="none" stroke="#d8f51e" stroke-opacity="0.72" stroke-width="3.6" stroke-linejoin="round" stroke-dasharray="4 2.5"/>
<polyline points="146,701 148,699.6 150,698.2 152.1,696.8 154.1,695.5 156.1,694.2 158.1,692.8 160.1,691.6 162.2,690.3 164.2,689.1 166.2,687.9 168.2,686.7 170.3,685.6 172.3,684.4 174.3,683.4 176.3,682.3 178.3,681.2 180.4,680 182.4,678.8 184.4,677.6 186.4,676.4 188.4,675.2 190.5,674.1 192.5,673 194.5,671.9 196.5,671 198.5,670.1 200.6,669.3 202.6,668.6 204.6,668.1 206.6,667.8 208.7,667.5 210.7,667.5 212.7,667.6 214.7,667.7 216.7,667.9 218.8,668.2 220.8,668.5 222.8,668.9 224.8,669.4 226.8,669.9 228.9,670.4 230.9,670.9 232.9,671.5 234.9,672.1 236.9,672.8 239,673.4 241,674.1 243,674.8 245,675.4 247.1,676.1 249.1,676.7 251.1,677.4 253.1,678.1 255.1,678.8 257.2,679.7 259.2,680.6 261.2,681.5 263.2,682.5 265.2,683.5 267.3,684.6 269.3,685.6 271.3,686.6 273.3,687.7 275.3,688.7 277.4,689.7 279.4,690.7 281.4,691.6 283.4,692.5 285.5,693.4 287.5,694.1 289.5,694.8 291.5,695.5 293.5,696.1 295.6,696.7 297.6,697.3 299.6,697.8 301.6,698.4 303.6,698.9 305.7,699.4 307.7,699.9 309.7,700.4 311.7,700.8 313.7,701.3 315.8,701.7 317.8,702.1 319.8,702.5 321.8,702.8 323.9,703.2 325.9,703.5 327.9,703.9 329.9,704.2 331.9,704.6 334,704.9 336,705.3 338,705.6 340,705.9 342,706.2 344.1,706.5 346.1,706.8 348.1,707.1 350.1,707.4 352.1,707.7 354.2,707.9 356.2,708.2 358.2,708.4 360.2,708.6 362.3,708.8 364.3,709.1 366.3,709.2 368.3,709.4 370.3,709.6 372.4,709.7 374.4,709.9 376.4,710" fill="none" stroke="#3cf5a0" stroke-opacity="0.66" stroke-width="5" stroke-linejoin="round"/>
<polyline points="140,700 141.5,699.1 143.1,698.2 144.6,697.3 146.1,696.3 147.7,695.3 149.2,694.4 150.7,693.4 152.3,692.3 153.8,691.3 155.4,690.3 156.9,689.3 158.4,688.2 160,687.2 161.5,686.2 163,685.1 164.6,684.1 166.1,683.1 167.6,682.1 169.2,681.1 170.7,680.1 172.2,679.1 173.8,678.2 175.3,677.2 176.8,676.4 178.4,675.5 179.9,674.7 181.5,673.9 183,673.1 184.5,672.4 186.1,671.7 187.6,671.1 189.1,670.5 190.7,670 192.2,669.5 193.7,669 195.3,668.6 196.8,668.3 198.3,668 199.9,667.8 201.4,667.7 202.9,667.6 204.5,667.5 206,667.5 207.5,667.7 209.1,668 210.6,668.4 212.2,668.9 213.7,669.5 215.2,670.3 216.8,671.2 218.3,672.2 219.8,673.2 221.4,674.4 222.9,675.6 224.4,677 226,678.3 227.5,679.8 229,681.3 230.6,682.8 232.1,684.3 233.6,685.9 235.2,687.5 236.7,689.1 238.3,690.6 239.8,692.2 241.3,693.8 242.9,695.3 244.4,696.8 245.9,698.2 247.5,699.6 249,701" fill="none" stroke="#3cf5a0" stroke-opacity="0.66" stroke-width="3.6" stroke-linejoin="round" stroke-dasharray="4 2.5"/>
<polyline points="269,699 271,697.6 273,696.2 275,694.8 277.1,693.4 279.1,692.1 281.1,690.8 283.1,689.5 285.1,688.2 287.1,687 289.2,685.8 291.2,684.6 293.2,683.5 295.2,682.4 297.2,681.4 299.2,680.4 301.2,679.4 303.3,678.4 305.3,677.3 307.3,676.2 309.3,675.1 311.3,674 313.3,673 315.4,672 317.4,671 319.4,670.1 321.4,669.3 323.4,668.6 325.4,668 327.4,667.5 329.5,667.2 331.5,667 333.5,667 335.5,667.1 337.5,667.3 339.5,667.5 341.6,667.8 343.6,668.2 345.6,668.7 347.6,669.2 349.6,669.7 351.6,670.3 353.6,670.9 355.7,671.5 357.7,672.1 359.7,672.8 361.7,673.4 363.7,674.1 365.7,674.7 367.8,675.3 369.8,675.9 371.8,676.5 373.8,677.2 375.8,677.8 377.8,678.5 379.8,679.2 381.9,680 383.9,680.7 385.9,681.5 387.9,682.3 389.9,683.1 391.9,683.9 394,684.8 396,685.6 398,686.4 400,687.2 402,688 404,688.8 406,689.5 408.1,690.3 410.1,691 412.1,691.7 414.1,692.3 416.1,692.9 418.1,693.5 420.2,694 422.2,694.6 424.2,695.1 426.2,695.6 428.2,696 430.2,696.5 432.2,697 434.3,697.5 436.3,697.9 438.3,698.4 440.3,698.8 442.3,699.2 444.3,699.6 446.4,700 448.4,700.4 450.4,700.8 452.4,701.2 454.4,701.6 456.4,701.9 458.4,702.3 460.5,702.6 462.5,702.9 464.5,703.2 466.5,703.5 468.5,703.8 470.5,704.1 472.6,704.3 474.6,704.6 476.6,704.9 478.6,705.1 480.6,705.4 482.6,705.6 484.6,705.9 486.7,706.1 488.7,706.4 490.7,706.6 492.7,706.8 494.7,707.1 496.7,707.3 498.8,707.5 500.8,707.7 502.8,707.9 504.8,708.1 506.8,708.3 508.8,708.5 510.8,708.7 512.9,708.8 514.9,709 516.9,709.2 518.9,709.3 520.9,709.4 522.9,709.6 525,709.7 527,709.8 529,709.9 531,710" fill="none" stroke="#3848f0" stroke-opacity="0.66" stroke-width="5" stroke-linejoin="round"/>
<polyline points="260,700 261.5,699 263.1,698 264.6,696.9 266.1,695.9 267.6,694.8 269.2,693.7 270.7,692.5 272.2,691.4 273.7,690.3 275.3,689.1 276.8,688 278.3,686.8 279.9,685.6 281.4,684.5 282.9,683.3 284.4,682.2 286,681.1 287.5,680 289,678.9 290.5,677.9 292.1,676.9 293.6,675.9 295.1,675 296.6,674.1 298.2,673.2 299.7,672.4 301.2,671.7 302.8,671 304.3,670.3 305.8,669.7 307.3,669.2 308.9,668.8 310.4,668.4 311.9,668.1 313.4,667.8 315,667.6 316.5,667.5 318,667.5 319.6,667.5 321.1,667.7 322.6,667.9 324.1,668.2 325.7,668.6 327.2,669 328.7,669.6 330.2,670.2 331.8,670.8 333.3,671.6 334.8,672.4 336.4,673.3 337.9,674.2 339.4,675.2 340.9,676.3 342.5,677.4 344,678.5 345.5,679.7 347,680.9 348.6,682.1 350.1,683.3 351.6,684.6 353.1,685.9 354.7,687.2 356.2,688.5 357.7,689.8 359.3,691.1 360.8,692.4 362.3,693.6 363.8,694.9 365.4,696.1 366.9,697.4 368.4,698.6 369.9,699.7 371.5,700.9 373,702" fill="none" stroke="#3848f0" stroke-opacity="0.66" stroke-width="3.6" stroke-linejoin="round" stroke-dasharray="4 2.5"/>
<polyline points="26,761 27.5,759.8 29.1,758.5 30.6,757.3 32.1,755.9 33.7,754.6 35.2,753.2 36.7,751.8 38.2,750.4 39.8,749 41.3,747.6 42.8,746.3 44.4,744.9 45.9,743.6 47.4,742.3 49,741 50.5,739.8 52,738.7 53.6,737.6 55.1,736.6 56.6,735.7 58.2,734.9 59.7,734.1 61.2,733.5 62.8,733 64.3,732.6 65.8,732.3 67.3,732.1 68.9,732 70.4,732 71.9,732.2 73.5,732.4 75,732.7 76.5,733.1 78.1,733.6 79.6,734.2 81.1,734.8 82.7,735.5 84.2,736.3 85.7,737.2 87.2,738.2 88.8,739.2 90.3,740.2 91.8,741.3 93.4,742.5 94.9,743.7 96.4,745 98,746.3 99.5,747.6 101,748.9 102.6,750.3 104.1,751.7 105.6,753.1 107.2,754.5 108.7,755.9 110.2,757.2 111.8,758.6 113.3,760 114.8,761.4 116.3,762.7 117.9,764 119.4,765.3 120.9,766.6 122.5,767.8 124,769" fill="none" stroke="#ff1a40" stroke-opacity="0.7" stroke-width="5" stroke-linejoin="round"/>
<polyline points="28,759 29.5,757.7 31.1,756.5 32.6,755.1 34.2,753.7 35.7,752.3 37.2,750.9 38.8,749.5 40.3,748 41.9,746.6 43.4,745.2 45,743.8 46.5,742.4 48,741.1 49.6,739.8 51.1,738.6 52.7,737.4 54.2,736.4 55.7,735.4 57.3,734.6 58.8,733.9 60.4,733.2 61.9,732.7 63.4,732.4 65,732.1 66.5,732 68.1,732 69.6,732.1 71.1,732.3 72.7,732.6 74.2,733 75.8,733.4 77.3,734 78.9,734.6 80.4,735.3 81.9,736.1 83.5,736.9 85,737.8 86.6,738.8 88.1,739.9 89.6,740.9 91.2,742.1 92.7,743.3 94.3,744.5 95.8,745.7 97.3,747 98.9,748.3 100.4,749.7 102,751 103.5,752.4 105,753.8 106.6,755.1 108.1,756.5 109.7,757.8 111.2,759.2 112.8,760.5 114.3,761.8 115.8,763.1 117.4,764.4 118.9,765.6 120.5,766.8 122,768" fill="none" stroke="#ff1a40" stroke-opacity="0.7" stroke-width="3.6" stroke-linejoin="round" stroke-dasharray="4 2.5"/>
<polyline points="39,767.5 40.5,766.3 42,765.1 43.6,763.9 45.1,762.6 46.6,761.3 48.1,760 49.6,758.7 51.2,757.3 52.7,756 54.2,754.6 55.7,753.2 57.2,751.9 58.8,750.5 60.3,749.2 61.8,747.8 63.3,746.5 64.8,745.2 66.4,744 67.9,742.8 69.4,741.6 70.9,740.5 72.5,739.4 74,738.4 75.5,737.4 77,736.6 78.5,735.7 80.1,735 81.6,734.3 83.1,733.7 84.6,733.2 86.1,732.8 87.7,732.5 89.2,732.2 90.7,732.1 92.2,732 93.7,732 95.3,732.1 96.8,732.3 98.3,732.6 99.8,732.9 101.3,733.3 102.9,733.8 104.4,734.4 105.9,735 107.4,735.7 108.9,736.4 110.5,737.3 112,738.1 113.5,739.1 115,740.1 116.5,741.1 118.1,742.1 119.6,743.3 121.1,744.4 122.6,745.6 124.2,746.8 125.7,748 127.2,749.2 128.7,750.5 130.2,751.7 131.8,753 133.3,754.3 134.8,755.6 136.3,756.8 137.8,758.1 139.4,759.3 140.9,760.6 142.4,761.8 143.9,763 145.4,764.1 147,765.3 148.5,766.4 150,767.5" fill="none" stroke="#d8f51e" stroke-opacity="0.72" stroke-width="5" stroke-linejoin="round"/>
<polyline points="60,764 61.5,762.5 63,760.9 64.6,759.3 66.1,757.6 67.6,755.9 69.1,754.1 70.7,752.4 72.2,750.6 73.7,748.9 75.2,747.1 76.8,745.4 78.3,743.8 79.8,742.2 81.3,740.6 82.9,739.2 84.4,737.9 85.9,736.7 87.4,735.6 89,734.6 90.5,733.8 92,733.1 93.5,732.6 95,732.2 96.6,732 98.1,732 99.6,732.1 101.1,732.2 102.7,732.5 104.2,732.8 105.7,733.2 107.2,733.6 108.8,734.1 110.3,734.8 111.8,735.4 113.3,736.2 114.9,737 116.4,737.8 117.9,738.8 119.4,739.7 121,740.8 122.5,741.8 124,742.9 125.5,744.1 127,745.3 128.6,746.5 130.1,747.7 131.6,749 133.1,750.2 134.7,751.5 136.2,752.8 137.7,754.1 139.2,755.4 140.8,756.7 142.3,758 143.8,759.3 145.3,760.6 146.9,761.9 148.4,763.1 149.9,764.3 151.4,765.5 153,766.7 154.5,767.9 156,769" fill="none" stroke="#d8f51e" stroke-opacity="0.72" stroke-width="3.6" stroke-linejoin="round" stroke-dasharray="4 2.5"/>
<polyline points="69,767.5 71,766.7 73.1,766 75.1,765.2 77.1,764.4 79.2,763.7 81.2,762.9 83.2,762.1 85.2,761.4 87.3,760.6 89.3,759.9 91.3,759.2 93.4,758.4 95.4,757.7 97.4,756.9 99.5,756.2 101.5,755.5 103.5,754.8 105.5,754 107.6,753.3 109.6,752.6 111.6,751.9 113.7,751.2 115.7,750.5 117.7,749.8 119.8,749.1 121.8,748.4 123.8,747.6 125.8,746.8 127.9,746 129.9,745.2 131.9,744.3 134,743.5 136,742.6 138,741.7 140.1,740.8 142.1,740 144.1,739.1 146.1,738.3 148.2,737.5 150.2,736.7 152.2,736 154.3,735.3 156.3,734.7 158.3,734.1 160.4,733.6 162.4,733.1 164.4,732.7 166.4,732.4 168.5,732.2 170.5,732 172.5,732 174.6,732.1 176.6,732.3 178.6,732.8 180.7,733.3 182.7,734 184.7,734.7 186.7,735.6 188.8,736.5 190.8,737.5 192.8,738.6 194.9,739.7 196.9,740.8 198.9,741.9 201,742.9 203,744 205,745 207,746 209.1,747.1 211.1,748.1 213.1,749.2 215.2,750.4 217.2,751.6 219.2,752.8 221.3,754 223.3,755.3 225.3,756.6 227.3,758 229.4,759.3 231.4,760.7 233.4,762.1 235.5,763.5 237.5,765" fill="none" stroke="#3cf5a0" stroke-opacity="0.66" stroke-width="5" stroke-linejoin="round"/>
<polyline points="145,769 146.5,767.6 148,766.2 149.6,764.7 151.1,763.2 152.6,761.7 154.1,760.1 155.7,758.6 157.2,757 158.7,755.4 160.2,753.7 161.7,752.1 163.3,750.6 164.8,749 166.3,747.4 167.8,745.9 169.3,744.5 170.9,743 172.4,741.7 173.9,740.4 175.4,739.1 177,738 178.5,736.9 180,735.9 181.5,735.1 183,734.3 184.6,733.6 186.1,733.1 187.6,732.6 189.1,732.3 190.7,732.1 192.2,732 193.7,732 195.2,732.1 196.7,732.3 198.3,732.5 199.8,732.9 201.3,733.3 202.8,733.7 204.3,734.3 205.9,734.9 207.4,735.5 208.9,736.2 210.4,737 212,737.9 213.5,738.8 215,739.7 216.5,740.7 218,741.7 219.6,742.8 221.1,743.9 222.6,745 224.1,746.1 225.7,747.3 227.2,748.5 228.7,749.7 230.2,750.9 231.7,752.1 233.3,753.3 234.8,754.5 236.3,755.8 237.8,757 239.3,758.2 240.9,759.3 242.4,760.5 243.9,761.7 245.4,762.8 247,763.9 248.5,765 250,766" fill="none" stroke="#3cf5a0" stroke-opacity="0.66" stroke-width="3.6" stroke-linejoin="round" stroke-dasharray="4 2.5"/>
<polyline points="92.5,765 94.5,764.7 96.5,764.4 98.6,764.1 100.6,763.8 102.6,763.5 104.6,763.2 106.6,762.9 108.7,762.6 110.7,762.4 112.7,762.1 114.7,761.8 116.7,761.6 118.8,761.3 120.8,761.1 122.8,760.8 124.8,760.6 126.8,760.4 128.8,760.1 130.9,759.9 132.9,759.7 134.9,759.5 136.9,759.3 138.9,759.1 141,758.9 143,758.7 145,758.6 147,758.4 149,758.2 151.1,758.1 153.1,757.9 155.1,757.7 157.1,757.6 159.1,757.4 161.2,757.3 163.2,757.2 165.2,757 167.2,756.9 169.2,756.7 171.2,756.6 173.3,756.5 175.3,756.3 177.3,756.2 179.3,756 181.3,755.9 183.4,755.8 185.4,755.7 187.4,755.5 189.4,755.4 191.4,755.3 193.5,755.2 195.5,755.1 197.5,755 199.5,754.8 201.5,754.7 203.6,754.6 205.6,754.4 207.6,754.2 209.6,754 211.6,753.8 213.7,753.6 215.7,753.3 217.7,753 219.7,752.6 221.7,752.3 223.8,751.9 225.8,751.4 227.8,751 229.8,750.5 231.8,750 233.8,749.5 235.9,749 237.9,748.5 239.9,747.9 241.9,747.4 243.9,746.8 246,746.3 248,745.7 250,745.2 252,744.6 254,744.1 256.1,743.5 258.1,743 260.1,742.5 262.1,741.9 264.1,741.3 266.2,740.6 268.2,739.9 270.2,739.2 272.2,738.4 274.2,737.7 276.2,736.9 278.3,736.1 280.3,735.4 282.3,734.6 284.3,734 286.3,733.3 288.4,732.7 290.4,732.2 292.4,731.8 294.4,731.4 296.4,731.2 298.5,731 300.5,731 302.5,731.1 304.5,731.4 306.5,731.8 308.6,732.3 310.6,733 312.6,733.7 314.6,734.5 316.6,735.4 318.7,736.4 320.7,737.3 322.7,738.3 324.7,739.4 326.7,740.4 328.8,741.4 330.8,742.4 332.8,743.4 334.8,744.5 336.8,745.7 338.8,747 340.9,748.3 342.9,749.7 344.9,751.1 346.9,752.6 348.9,754.2 351,755.7 353,757.4 355,759" fill="none" stroke="#3848f0" stroke-opacity="0.66" stroke-width="5" stroke-linejoin="round"/>
<polyline points="262.5,766 264,764.6 265.6,763.1 267.1,761.5 268.6,760 270.2,758.4 271.7,756.7 273.2,755.1 274.8,753.4 276.3,751.8 277.8,750.1 279.4,748.5 280.9,746.9 282.5,745.3 284,743.7 285.5,742.3 287.1,740.8 288.6,739.5 290.1,738.2 291.7,737.1 293.2,736 294.7,735.1 296.3,734.2 297.8,733.5 299.3,733 300.9,732.5 302.4,732.2 303.9,732 305.5,732 307,732 308.5,732.1 310.1,732.3 311.6,732.5 313.1,732.7 314.7,733 316.2,733.4 317.8,733.8 319.3,734.2 320.8,734.7 322.4,735.3 323.9,735.8 325.4,736.5 327,737.1 328.5,737.8 330,738.6 331.6,739.3 333.1,740.1 334.6,741 336.2,741.8 337.7,742.7 339.2,743.6 340.8,744.5 342.3,745.4 343.8,746.4 345.4,747.4 346.9,748.3 348.4,749.3 350,750.3 351.5,751.3 353,752.3 354.6,753.3 356.1,754.3 357.7,755.3 359.2,756.2 360.7,757.2 362.3,758.2 363.8,759.1 365.3,760.1 366.9,761 368.4,761.9 369.9,762.8 371.5,763.6 373,764.5" fill="none" stroke="#3848f0" stroke-opacity="0.66" stroke-width="3.6" stroke-linejoin="round" stroke-dasharray="4 2.5"/>
<polyline points="27.5,832.5 29,830.8 30.6,829 32.1,827.2 33.7,825.3 35.2,823.4 36.7,821.4 38.3,819.5 39.8,817.5 41.4,815.5 42.9,813.6 44.4,811.6 46,809.8 47.5,808 49,806.2 50.6,804.6 52.1,803.1 53.7,801.7 55.2,800.4 56.7,799.3 58.3,798.3 59.8,797.5 61.4,796.8 62.9,796.4 64.4,796.1 66,796 67.5,796.1 69.1,796.3 70.6,796.8 72.1,797.4 73.7,798.1 75.2,799 76.8,800.1 78.3,801.2 79.8,802.6 81.4,804 82.9,805.5 84.5,807.1 86,808.8 87.5,810.6 89.1,812.4 90.6,814.3 92.1,816.2 93.7,818.1 95.2,820 96.8,821.9 98.3,823.7 99.8,825.6 101.4,827.4 102.9,829.1 104.5,830.9 106,832.5" fill="none" stroke="#ff1a40" stroke-opacity="0.7" stroke-width="5" stroke-linejoin="round"/>
<polyline points="29,831 30.5,829.3 32.1,827.6 33.6,825.9 35.1,824 36.7,822.2 38.2,820.3 39.7,818.4 41.2,816.5 42.8,814.6 44.3,812.7 45.8,810.9 47.4,809.1 48.9,807.3 50.4,805.7 52,804.1 53.5,802.6 55,801.3 56.6,800.1 58.1,799 59.6,798.1 61.1,797.3 62.7,796.7 64.2,796.3 65.7,796.1 67.3,796 68.8,796.1 70.3,796.4 71.9,797 73.4,797.6 74.9,798.5 76.4,799.5 78,800.7 79.5,802 81,803.5 82.6,805.1 84.1,806.7 85.6,808.5 87.2,810.3 88.7,812.2 90.2,814.1 91.8,816.1 93.3,818 94.8,820 96.3,821.9 97.9,823.8 99.4,825.7 100.9,827.5 102.5,829.3 104,831" fill="none" stroke="#ff1a40" stroke-opacity="0.7" stroke-width="3.6" stroke-linejoin="round" stroke-dasharray="4 2.5"/>
<polyline points="60,832.5 61.5,830.9 63.1,829.3 64.6,827.7 66.2,826 67.7,824.2 69.3,822.5 70.8,820.7 72.4,818.9 73.9,817.1 75.5,815.3 77,813.5 78.6,811.8 80.1,810.1 81.7,808.4 83.2,806.8 84.8,805.3 86.3,803.8 87.9,802.5 89.4,801.3 91,800.1 92.5,799.1 94.1,798.2 95.6,797.5 97.2,796.9 98.7,796.5 100.3,796.2 101.8,796 103.4,796 104.9,796.3 106.5,796.7 108,797.3 109.6,798.1 111.1,799.2 112.7,800.3 114.2,801.7 115.8,803.2 117.3,804.8 118.9,806.6 120.4,808.4 122,810.4 123.5,812.4 125.1,814.4 126.6,816.5 128.2,818.6 129.7,820.7 131.3,822.8 132.8,824.8 134.4,826.8 135.9,828.8 137.5,830.7 139,832.5" fill="none" stroke="#d8f51e" stroke-opacity="0.72" stroke-width="5" stroke-linejoin="round"/>
<polyline points="62,831 63.5,829.5 65.1,828 66.6,826.4 68.1,824.7 69.7,823.1 71.2,821.4 72.7,819.7 74.2,817.9 75.8,816.2 77.3,814.5 78.8,812.8 80.4,811.1 81.9,809.5 83.4,807.9 85,806.4 86.5,804.9 88,803.5 89.6,802.2 91.1,801 92.6,800 94.1,799 95.7,798.2 97.2,797.4 98.7,796.9 100.3,796.4 101.8,796.2 103.3,796 104.9,796 106.4,796.3 107.9,796.8 109.4,797.5 111,798.4 112.5,799.6 114,800.9 115.6,802.5 117.1,804.1 118.6,806 120.2,807.9 121.7,809.9 123.2,812 124.8,814.2 126.3,816.4 127.8,818.6 129.3,820.8 130.9,822.9 132.4,825 133.9,827.1 135.5,829.1 137,831" fill="none" stroke="#d8f51e" stroke-opacity="0.72" stroke-width="3.6" stroke-linejoin="round" stroke-dasharray="4 2.5"/>
<polyline points="137.5,832.5 139,831 140.6,829.4 142.1,827.8 143.7,826.2 145.2,824.5 146.8,822.8 148.3,821 149.8,819.3 151.4,817.5 152.9,815.8 154.5,814 156,812.3 157.5,810.7 159.1,809 160.6,807.5 162.2,805.9 163.7,804.5 165.2,803.1 166.8,801.9 168.3,800.7 169.9,799.7 171.4,798.8 173,798 174.5,797.3 176,796.8 177.6,796.4 179.1,796.1 180.7,796 182.2,796 183.8,796.2 185.3,796.4 186.8,796.8 188.4,797.3 189.9,797.9 191.5,798.6 193,799.4 194.5,800.3 196.1,801.3 197.6,802.3 199.2,803.5 200.7,804.7 202.2,806 203.8,807.3 205.3,808.7 206.9,810.1 208.4,811.6 210,813.1 211.5,814.6 213,816.2 214.6,817.7 216.1,819.3 217.7,820.8 219.2,822.4 220.8,823.9 222.3,825.4 223.8,826.9 225.4,828.4 226.9,829.8 228.5,831.2 230,832.5" fill="none" stroke="#3cf5a0" stroke-opacity="0.66" stroke-width="5" stroke-linejoin="round"/>
<polyline points="146,832.5 147.5,830.7 149.1,828.9 150.6,827 152.1,825.1 153.6,823.1 155.2,821 156.7,819 158.2,817 159.7,814.9 161.3,812.9 162.8,811 164.3,809.1 165.9,807.2 167.4,805.5 168.9,803.9 170.4,802.3 172,801 173.5,799.7 175,798.6 176.5,797.7 178.1,797 179.6,796.5 181.1,796.1 182.7,796 184.2,796 185.7,796.2 187.2,796.5 188.8,796.9 190.3,797.4 191.8,798 193.3,798.8 194.9,799.6 196.4,800.5 197.9,801.6 199.5,802.7 201,803.9 202.5,805.2 204,806.6 205.6,808 207.1,809.4 208.6,810.9 210.1,812.5 211.7,814 213.2,815.6 214.7,817.2 216.3,818.8 217.8,820.4 219.3,822 220.8,823.6 222.4,825.2 223.9,826.7 225.4,828.2 226.9,829.7 228.5,831.1 230,832.5" fill="none" stroke="#3cf5a0" stroke-opacity="0.66" stroke-width="3.6" stroke-linejoin="round" stroke-dasharray="4 2.5"/>
<polyline points="231,832.5 232.5,831.4 234.1,830.3 235.6,829.1 237.1,827.9 238.7,826.7 240.2,825.5 241.8,824.2 243.3,823 244.8,821.7 246.4,820.4 247.9,819.1 249.4,817.8 251,816.6 252.5,815.3 254,814 255.6,812.7 257.1,811.5 258.7,810.3 260.2,809.1 261.7,807.9 263.3,806.8 264.8,805.7 266.3,804.6 267.9,803.6 269.4,802.7 270.9,801.8 272.5,800.9 274,800.1 275.6,799.4 277.1,798.7 278.6,798.1 280.2,797.6 281.7,797.1 283.2,796.8 284.8,796.5 286.3,796.2 287.8,796.1 289.4,796 290.9,796 292.5,796.1 294,796.3 295.5,796.6 297.1,797 298.6,797.4 300.1,798 301.7,798.6 303.2,799.3 304.8,800.1 306.3,801 307.8,801.9 309.4,802.9 310.9,804 312.4,805.1 314,806.2 315.5,807.5 317,808.7 318.6,810 320.1,811.3 321.7,812.7 323.2,814 324.7,815.4 326.3,816.8 327.8,818.2 329.3,819.6 330.9,821 332.4,822.4 333.9,823.8 335.5,825.1 337,826.5 338.6,827.8 340.1,829.1 341.6,830.4 343.2,831.6 344.7,832.8" fill="none" stroke="#3848f0" stroke-opacity="0.66" stroke-width="5" stroke-linejoin="round"/>
<polyline points="249,831 250.5,829.6 252.1,828.1 253.6,826.6 255.1,825 256.7,823.4 258.2,821.8 259.7,820.2 261.3,818.6 262.8,816.9 264.3,815.3 265.9,813.6 267.4,812 268.9,810.4 270.5,808.9 272,807.4 273.5,805.9 275,804.6 276.6,803.3 278.1,802 279.6,800.9 281.2,799.9 282.7,799 284.2,798.2 285.8,797.5 287.3,796.9 288.8,796.5 290.4,796.2 291.9,796 293.4,796 295,796.1 296.5,796.3 298,796.6 299.6,796.9 301.1,797.4 302.6,798 304.2,798.7 305.7,799.4 307.2,800.3 308.8,801.2 310.3,802.2 311.8,803.3 313.4,804.4 314.9,805.6 316.4,806.9 318,808.2 319.5,809.5 321,810.9 322.5,812.3 324.1,813.8 325.6,815.2 327.1,816.7 328.7,818.1 330.2,819.6 331.7,821.1 333.3,822.5 334.8,823.9 336.3,825.4 337.9,826.7 339.4,828.1 340.9,829.4 342.5,830.7 344,832" fill="none" stroke="#3848f0" stroke-opacity="0.66" stroke-width="3.6" stroke-linejoin="round" stroke-dasharray="4 2.5"/>
<polyline points="26,875 27.5,874.3 29.1,873.5 30.6,872.7 32.1,871.9 33.7,871.1 35.2,870.3 36.8,869.5 38.3,868.6 39.8,867.8 41.4,867 42.9,866.2 44.4,865.5 46,864.7 47.5,864.1 49.1,863.5 50.6,862.9 52.1,862.4 53.7,862 55.2,861.6 56.7,861.3 58.3,861.1 59.8,861 61.4,861 62.9,861 64.4,861.1 66,861.3 67.5,861.5 69,861.8 70.6,862.1 72.1,862.5 73.7,862.9 75.2,863.4 76.7,863.9 78.3,864.5 79.8,865.1 81.3,865.8 82.9,866.5 84.4,867.2 86,868 87.5,868.9 89,869.7 90.6,870.6 92.1,871.5 93.6,872.5 95.2,873.4 96.7,874.4 98.3,875.4 99.8,876.5 101.3,877.5 102.9,878.6 104.4,879.6 105.9,880.7 107.5,881.8 109,882.8 110.6,883.9 112.1,885 113.6,886 115.2,887.1 116.7,888.1 118.2,889.2 119.8,890.2 121.3,891.2 122.9,892.2 124.4,893.2 125.9,894.1 127.5,895.1 129,896" fill="none" stroke="#ff1a40" stroke-opacity="0.7" stroke-width="5" stroke-linejoin="round"/>
<polyline points="29,884 30.5,882.9 32,881.7 33.6,880.4 35.1,879.2 36.6,877.9 38.1,876.6 39.7,875.3 41.2,874 42.7,872.6 44.2,871.4 45.8,870.1 47.3,868.9 48.8,867.7 50.3,866.6 51.9,865.6 53.4,864.6 54.9,863.8 56.4,863 58,862.4 59.5,861.9 61,861.5 62.5,861.2 64,861 65.6,861 67.1,861.1 68.6,861.2 70.1,861.4 71.7,861.7 73.2,862 74.7,862.4 76.2,862.9 77.8,863.4 79.3,864 80.8,864.6 82.3,865.3 83.9,866.1 85.4,866.9 86.9,867.8 88.4,868.7 90,869.6 91.5,870.6 93,871.6 94.5,872.6 96,873.7 97.6,874.8 99.1,875.9 100.6,877.1 102.1,878.2 103.7,879.4 105.2,880.5 106.7,881.7 108.2,882.9 109.8,884 111.3,885.2 112.8,886.4 114.3,887.5 115.9,888.6 117.4,889.7 118.9,890.8 120.4,891.9 122,893 123.5,894 125,895" fill="none" stroke="#ff1a40" stroke-opacity="0.7" stroke-width="3.6" stroke-linejoin="round" stroke-dasharray="4 2.5"/>
<polyline points="32.5,896 34,895.1 35.5,894.2 37.1,893.3 38.6,892.4 40.1,891.4 41.6,890.4 43.2,889.4 44.7,888.5 46.2,887.4 47.7,886.4 49.2,885.4 50.8,884.4 52.3,883.4 53.8,882.3 55.3,881.3 56.8,880.3 58.4,879.3 59.9,878.2 61.4,877.2 62.9,876.2 64.5,875.2 66,874.3 67.5,873.3 69,872.4 70.5,871.5 72.1,870.6 73.6,869.7 75.1,868.9 76.6,868.1 78.2,867.4 79.7,866.6 81.2,865.9 82.7,865.3 84.2,864.7 85.8,864.1 87.3,863.6 88.8,863.1 90.3,862.7 91.8,862.3 93.4,861.9 94.9,861.7 96.4,861.4 97.9,861.2 99.5,861.1 101,861 102.5,861 104,861 105.5,861.1 107.1,861.2 108.6,861.4 110.1,861.7 111.6,862 113.2,862.3 114.7,862.7 116.2,863.2 117.7,863.7 119.2,864.2 120.8,864.8 122.3,865.5 123.8,866.1 125.3,866.9 126.8,867.6 128.4,868.4 129.9,869.3 131.4,870.1 132.9,871 134.5,871.9 136,872.9 137.5,873.9 139,874.8 140.5,875.9 142.1,876.9 143.6,877.9 145.1,879 146.6,880 148.2,881.1 149.7,882.2 151.2,883.2 152.7,884.3 154.2,885.4 155.8,886.5 157.3,887.5 158.8,888.6 160.3,889.6 161.8,890.7 163.4,891.7 164.9,892.7 166.4,893.7 167.9,894.7 169.5,895.6 171,896.6 172.5,897.5" fill="none" stroke="#d8f51e" stroke-opacity="0.72" stroke-width="5" stroke-linejoin="round"/>
<polyline points="36,895 37.5,894.1 39,893.2 40.6,892.3 42.1,891.3 43.6,890.4 45.1,889.4 46.7,888.4 48.2,887.4 49.7,886.4 51.2,885.4 52.8,884.4 54.3,883.4 55.8,882.3 57.3,881.3 58.8,880.3 60.4,879.2 61.9,878.2 63.4,877.2 64.9,876.2 66.5,875.2 68,874.2 69.5,873.3 71,872.3 72.5,871.4 74.1,870.5 75.6,869.7 77.1,868.8 78.6,868 80.2,867.3 81.7,866.5 83.2,865.8 84.7,865.2 86.2,864.6 87.8,864 89.3,863.5 90.8,863 92.3,862.6 93.9,862.2 95.4,861.9 96.9,861.6 98.4,861.4 100,861.2 101.5,861.1 103,861 104.5,861 106,861.1 107.6,861.2 109.1,861.3 110.6,861.6 112.1,861.8 113.7,862.2 115.2,862.6 116.7,863 118.2,863.5 119.8,864.1 121.3,864.7 122.8,865.3 124.3,866 125.8,866.8 127.4,867.6 128.9,868.4 130.4,869.3 131.9,870.1 133.5,871.1 135,872 136.5,873 138,874 139.5,875 141.1,876.1 142.6,877.1 144.1,878.2 145.6,879.3 147.2,880.4 148.7,881.4 150.2,882.5 151.7,883.6 153.2,884.7 154.8,885.8 156.3,886.9 157.8,888 159.3,889 160.9,890.1 162.4,891.1 163.9,892.1 165.4,893.1 167,894.1 168.5,895.1 170,896" fill="none" stroke="#d8f51e" stroke-opacity="0.72" stroke-width="3.6" stroke-linejoin="round" stroke-dasharray="4 2.5"/>
<polyline points="116,897.5 117.5,896.6 119,895.7 120.6,894.8 122.1,893.9 123.6,893 125.1,892 126.6,891.1 128.2,890.1 129.7,889.1 131.2,888.1 132.7,887.1 134.2,886.1 135.8,885.1 137.3,884.1 138.8,883.1 140.3,882.1 141.8,881 143.3,880 144.9,879 146.4,878 147.9,877.1 149.4,876.1 150.9,875.1 152.5,874.2 154,873.3 155.5,872.4 157,871.5 158.5,870.6 160.1,869.8 161.6,869 163.1,868.2 164.6,867.5 166.1,866.7 167.7,866.1 169.2,865.4 170.7,864.8 172.2,864.3 173.7,863.7 175.2,863.3 176.8,862.8 178.3,862.4 179.8,862.1 181.3,861.8 182.8,861.5 184.4,861.3 185.9,861.2 187.4,861.1 188.9,861 190.4,861 192,861 193.5,861.1 195,861.2 196.5,861.3 198,861.5 199.6,861.7 201.1,862 202.6,862.3 204.1,862.6 205.6,863 207.2,863.4 208.7,863.8 210.2,864.3 211.7,864.8 213.2,865.3 214.8,865.8 216.3,866.4 217.8,867 219.3,867.7 220.8,868.3 222.3,869 223.9,869.7 225.4,870.5 226.9,871.2 228.4,872 229.9,872.8 231.5,873.6 233,874.4 234.5,875.2 236,876.1 237.5,876.9 239.1,877.8 240.6,878.7 242.1,879.5 243.6,880.4 245.1,881.3 246.7,882.2 248.2,883.1 249.7,884 251.2,884.9 252.7,885.8 254.2,886.7 255.8,887.5 257.3,888.4 258.8,889.3 260.3,890.2 261.8,891 263.4,891.9 264.9,892.7 266.4,893.5 267.9,894.4 269.4,895.2 271,896 272.5,896.7 274,897.5" fill="none" stroke="#3cf5a0" stroke-opacity="0.66" stroke-width="5" stroke-linejoin="round"/>
<polyline points="120,896 121.5,895 123,894.1 124.6,893.1 126.1,892.1 127.6,891 129.1,890 130.7,888.9 132.2,887.8 133.7,886.7 135.2,885.6 136.8,884.5 138.3,883.4 139.8,882.3 141.3,881.2 142.8,880.1 144.4,879 145.9,877.9 147.4,876.8 148.9,875.8 150.5,874.7 152,873.7 153.5,872.7 155,871.7 156.5,870.7 158.1,869.8 159.6,868.9 161.1,868 162.6,867.2 164.2,866.5 165.7,865.7 167.2,865 168.7,864.4 170.2,863.8 171.8,863.3 173.3,862.8 174.8,862.4 176.3,862 177.9,861.7 179.4,861.4 180.9,861.2 182.4,861.1 184,861 185.5,861 187,861 188.5,861.1 190,861.3 191.6,861.5 193.1,861.7 194.6,862 196.1,862.4 197.7,862.8 199.2,863.2 200.7,863.7 202.2,864.3 203.8,864.9 205.3,865.5 206.8,866.1 208.3,866.9 209.8,867.6 211.4,868.4 212.9,869.2 214.4,870 215.9,870.9 217.5,871.7 219,872.7 220.5,873.6 222,874.5 223.5,875.5 225.1,876.5 226.6,877.5 228.1,878.5 229.6,879.5 231.2,880.5 232.7,881.5 234.2,882.5 235.7,883.5 237.2,884.6 238.8,885.6 240.3,886.6 241.8,887.6 243.3,888.5 244.9,889.5 246.4,890.5 247.9,891.4 249.4,892.3 251,893.2 252.5,894.1 254,895" fill="none" stroke="#3cf5a0" stroke-opacity="0.66" stroke-width="3.6" stroke-linejoin="round" stroke-dasharray="4 2.5"/>
<polyline points="215,896 216.5,895.3 218,894.5 219.6,893.8 221.1,893 222.6,892.2 224.1,891.5 225.7,890.7 227.2,889.8 228.7,889 230.2,888.2 231.8,887.4 233.3,886.5 234.8,885.7 236.3,884.9 237.8,884 239.4,883.2 240.9,882.3 242.4,881.5 243.9,880.6 245.5,879.8 247,878.9 248.5,878.1 250,877.3 251.6,876.4 253.1,875.6 254.6,874.8 256.1,874 257.6,873.3 259.2,872.5 260.7,871.7 262.2,871 263.7,870.3 265.3,869.6 266.8,868.9 268.3,868.2 269.8,867.6 271.3,867 272.9,866.4 274.4,865.8 275.9,865.3 277.4,864.8 279,864.3 280.5,863.9 282,863.4 283.5,863.1 285.1,862.7 286.6,862.4 288.1,862.1 289.6,861.8 291.1,861.6 292.7,861.4 294.2,861.3 295.7,861.1 297.2,861.1 298.8,861 300.3,861 301.8,861 303.3,861.1 304.9,861.2 306.4,861.4 307.9,861.5 309.4,861.8 310.9,862 312.5,862.3 314,862.7 315.5,863.1 317,863.5 318.6,863.9 320.1,864.4 321.6,864.9 323.1,865.5 324.7,866.1 326.2,866.7 327.7,867.3 329.2,868 330.7,868.7 332.3,869.4 333.8,870.2 335.3,870.9 336.8,871.7 338.4,872.5 339.9,873.3 341.4,874.2 342.9,875 344.4,875.9 346,876.8 347.5,877.7 349,878.6 350.5,879.5 352.1,880.4 353.6,881.3 355.1,882.2 356.6,883.1 358.2,884 359.7,884.9 361.2,885.9 362.7,886.8 364.2,887.7 365.8,888.6 367.3,889.5 368.8,890.3 370.3,891.2 371.9,892.1 373.4,892.9 374.9,893.8 376.4,894.6 378,895.4 379.5,896.2 381,897" fill="none" stroke="#3848f0" stroke-opacity="0.66" stroke-width="5" stroke-linejoin="round"/>
<polyline points="220,895 221.5,894.2 223.1,893.5 224.6,892.7 226.1,891.9 227.7,891.1 229.2,890.3 230.7,889.4 232.2,888.6 233.8,887.7 235.3,886.9 236.8,886 238.4,885.2 239.9,884.3 241.4,883.4 242.9,882.5 244.5,881.6 246,880.8 247.5,879.9 249.1,879 250.6,878.1 252.1,877.3 253.7,876.4 255.2,875.6 256.7,874.7 258.2,873.9 259.8,873.1 261.3,872.3 262.8,871.5 264.4,870.7 265.9,870 267.4,869.3 269,868.6 270.5,867.9 272,867.2 273.6,866.6 275.1,866 276.6,865.4 278.1,864.9 279.7,864.4 281.2,863.9 282.7,863.5 284.3,863.1 285.8,862.7 287.3,862.3 288.9,862 290.4,861.8 291.9,861.6 293.4,861.4 295,861.2 296.5,861.1 298,861 299.6,861 301.1,861 302.6,861.1 304.1,861.3 305.7,861.5 307.2,861.8 308.7,862.2 310.3,862.7 311.8,863.2 313.3,863.8 314.9,864.4 316.4,865.2 317.9,865.9 319.4,866.8 321,867.6 322.5,868.6 324,869.5 325.6,870.5 327.1,871.6 328.6,872.7 330.2,873.8 331.7,874.9 333.2,876.1 334.8,877.3 336.3,878.4 337.8,879.6 339.3,880.8 340.9,882.1 342.4,883.3 343.9,884.5 345.5,885.7 347,886.8 348.5,888 350,889.2 351.6,890.3 353.1,891.4 354.6,892.5 356.2,893.6 357.7,894.6" fill="none" stroke="#3848f0" stroke-opacity="0.66" stroke-width="3.6" stroke-linejoin="round" stroke-dasharray="4 2.5"/>
<polyline points="37.5,961 39,958.9 40.6,956.8 42.1,954.5 43.7,952.2 45.2,949.9 46.7,947.5 48.3,945.1 49.8,942.8 51.3,940.4 52.9,938.2 54.4,936.1 56,934 57.5,932.2 59,930.5 60.6,929 62.1,927.7 63.7,926.6 65.2,925.8 66.7,925.3 68.3,925 69.8,925 71.3,925.4 72.9,926.1 74.4,927 76,928.3 77.5,929.9 79,931.7 80.6,933.7 82.1,935.9 83.7,938.3 85.2,940.8 86.7,943.4 88.3,946 89.8,948.6 91.3,951.2 92.9,953.8 94.4,956.3 96,958.7 97.5,961" fill="none" stroke="#ff1a40" stroke-opacity="0.7" stroke-width="5" stroke-linejoin="round"/>
<polyline points="39,960 40.5,957.8 42.1,955.5 43.6,953.1 45.2,950.7 46.7,948.2 48.2,945.7 49.8,943.1 51.3,940.7 52.9,938.3 54.4,936 55.9,933.8 57.5,931.9 59,930.1 60.6,928.5 62.1,927.3 63.6,926.2 65.2,925.5 66.7,925.1 68.3,925 69.8,925.2 71.4,925.8 72.9,926.7 74.4,927.9 76,929.3 77.5,931.1 79.1,933.1 80.6,935.2 82.1,937.5 83.7,940 85.2,942.5 86.8,945.1 88.3,947.7 89.8,950.3 91.4,952.9 92.9,955.3 94.5,957.7 96,960" fill="none" stroke="#ff1a40" stroke-opacity="0.7" stroke-width="3.6" stroke-linejoin="round" stroke-dasharray="4 2.5"/>
<polyline points="60,959 62.1,956.1 64.2,953.2 66.2,950.5 68.3,947.8 70.4,945.3 72.5,942.8 74.5,940.5 76.6,938.2 78.7,935.6 80.8,933 82.8,930.5 84.9,928.3 87,926.5 89.1,925.4 91.2,925 93.2,925.3 95.3,926 97.4,927.1 99.5,928.5 101.5,930.1 103.6,931.8 105.7,933.6 107.8,935.3 109.8,936.9 111.9,938.4 114,940 116.1,941.6 118.2,943.2 120.2,944.9 122.3,946.6 124.4,948.4 126.5,950.2 128.5,952 130.6,953.9 132.7,955.9 134.8,957.8 136.8,959.8 138.9,961.9 141,964" fill="none" stroke="#d8f51e" stroke-opacity="0.72" stroke-width="5" stroke-linejoin="round"/>
<polyline points="60,959 61.6,956.8 63.1,954.4 64.7,952 66.2,949.5 67.8,947 69.3,944.4 70.9,941.9 72.4,939.4 74,937 75.5,934.7 77.1,932.6 78.6,930.7 80.2,929 81.8,927.6 83.3,926.5 84.9,925.7 86.4,925.2 88,925 89.5,925.1 91.1,925.6 92.6,926.4 94.2,927.4 95.7,928.7 97.3,930.3 98.9,932.1 100.4,934 102,936.2 103.5,938.5 105.1,940.8 106.6,943.3 108.2,945.8 109.7,948.3 111.3,950.7 112.8,953.2 114.4,955.5 115.9,957.8 117.5,960" fill="none" stroke="#d8f51e" stroke-opacity="0.72" stroke-width="3.6" stroke-linejoin="round" stroke-dasharray="4 2.5"/>
<polyline points="99,957.5 101,955.1 103.1,952.7 105.1,950.3 107.2,948.1 109.2,945.9 111.3,943.7 113.3,941.7 115.3,939.7 117.4,937.5 119.4,935.2 121.5,932.9 123.5,930.6 125.6,928.6 127.6,926.9 129.6,925.7 131.7,925.1 133.7,925.1 135.8,925.4 137.8,926 139.9,926.9 141.9,928 143.9,929.2 146,930.5 148,932 150.1,933.4 152.1,934.9 154.2,936.4 156.2,937.8 158.2,939 160.3,940.2 162.3,941.2 164.4,942.3 166.4,943.5 168.5,944.6 170.5,945.7 172.6,946.8 174.6,947.9 176.6,949 178.7,950.1 180.7,951.1 182.8,952 184.8,952.9 186.9,953.8 188.9,954.6 190.9,955.3 193,956 195,956.7 197.1,957.4 199.1,958 201.2,958.6 203.2,959.2 205.2,959.8 207.3,960.3 209.3,960.8 211.4,961.3 213.4,961.7 215.5,962.1 217.5,962.5" fill="none" stroke="#3cf5a0" stroke-opacity="0.66" stroke-width="5" stroke-linejoin="round"/>
<polyline points="100,958 101.6,955.8 103.1,953.5 104.7,951.2 106.2,948.7 107.8,946.2 109.4,943.8 110.9,941.3 112.5,938.9 114.1,936.5 115.6,934.3 117.2,932.3 118.8,930.4 120.3,928.8 121.9,927.5 123.4,926.4 125,925.6 126.6,925.1 128.1,925 129.7,925.1 131.2,925.5 132.8,926 134.4,926.8 135.9,927.8 137.5,929 139.1,930.3 140.6,931.8 142.2,933.4 143.8,935.2 145.3,937.1 146.9,939 148.4,941 150,943.1 151.6,945.1 153.1,947.2 154.7,949.3 156.2,951.3 157.8,953.4 159.4,955.3 160.9,957.2 162.5,959" fill="none" stroke="#3cf5a0" stroke-opacity="0.66" stroke-width="3.6" stroke-linejoin="round" stroke-dasharray="4 2.5"/>
<polyline points="140,957.5 142,955.5 144.1,953.6 146.1,951.7 148.2,949.9 150.2,948 152.2,946.3 154.3,944.6 156.3,942.9 158.3,941.3 160.4,939.7 162.4,938.1 164.5,936.3 166.5,934.5 168.5,932.7 170.6,930.9 172.6,929.3 174.7,927.8 176.7,926.6 178.7,925.7 180.8,925.2 182.8,925 184.8,925.1 186.9,925.4 188.9,925.9 191,926.5 193,927.2 195,928 197.1,928.9 199.1,929.9 201.2,930.9 203.2,931.8 205.2,932.8 207.3,933.8 209.3,934.7 211.3,935.6 213.4,936.5 215.4,937.5 217.5,938.5 219.5,939.5 221.5,940.6 223.6,941.7 225.6,942.8 227.7,943.9 229.7,944.9 231.7,946 233.8,947.1 235.8,948.1 237.8,949 239.9,949.9 241.9,950.8 244,951.7 246,952.6 248,953.4 250.1,954.2 252.1,955.1 254.2,955.9 256.2,956.7 258.2,957.5 260.3,958.2 262.3,959 264.3,959.7 266.4,960.4 268.4,961.1 270.5,961.8 272.5,962.5" fill="none" stroke="#3848f0" stroke-opacity="0.66" stroke-width="5" stroke-linejoin="round"/>
<polyline points="140,958 141.5,956.5 143.1,955 144.6,953.4 146.1,951.8 147.7,950.1 149.2,948.4 150.7,946.7 152.3,945 153.8,943.3 155.3,941.6 156.9,939.9 158.4,938.3 159.9,936.7 161.5,935.2 163,933.7 164.5,932.3 166.1,931 167.6,929.8 169.1,928.7 170.7,927.8 172.2,927 173.7,926.3 175.3,925.7 176.8,925.3 178.3,925.1 179.9,925 181.4,925.1 182.9,925.6 184.5,926.3 186,927.3 187.5,928.5 189.1,930 190.6,931.8 192.1,933.7 193.7,935.8 195.2,938 196.7,940.3 198.3,942.7 199.8,945.1 201.3,947.6 202.9,950 204.4,952.4 205.9,954.7 207.5,956.9 209,959" fill="none" stroke="#3848f0" stroke-opacity="0.66" stroke-width="3.6" stroke-linejoin="round" stroke-dasharray="4 2.5"/>
<polyline points="44,1026 45.6,1023.3 47.1,1020.5 48.7,1017.6 50.3,1014.6 51.8,1011.5 53.4,1008.5 55,1005.5 56.5,1002.7 58.1,1000 59.6,997.5 61.2,995.3 62.8,993.5 64.3,992 65.9,990.9 67.5,990.2 69,990 70.6,990.3 72.2,991 73.7,992.3 75.3,994 76.9,996.1 78.4,998.5 80,1001.3 81.5,1004.2 83.1,1007.3 84.7,1010.6 86.2,1013.8 87.8,1017 89.4,1020.1 90.9,1023.2 92.5,1026" fill="none" stroke="#ff1a40" stroke-opacity="0.7" stroke-width="5" stroke-linejoin="round"/>
<polyline points="45,1025 46.6,1022.1 48.2,1019.1 49.8,1015.9 51.3,1012.7 52.9,1009.4 54.5,1006.2 56.1,1003.1 57.7,1000.1 59.3,997.5 60.9,995.1 62.4,993.2 64,991.6 65.6,990.6 67.2,990.1 68.8,990.1 70.4,990.6 72,991.6 73.6,993.2 75.1,995.1 76.7,997.5 78.3,1000.1 79.9,1003.1 81.5,1006.2 83.1,1009.4 84.7,1012.7 86.2,1015.9 87.8,1019.1 89.4,1022.1 91,1025" fill="none" stroke="#ff1a40" stroke-opacity="0.7" stroke-width="3.6" stroke-linejoin="round" stroke-dasharray="4 2.5"/>
<polyline points="59,1024 61.1,1020.7 63.2,1017.4 65.3,1014.3 67.4,1011.3 69.4,1008.4 71.5,1005.6 73.6,1002.8 75.7,999.6 77.8,996.4 79.9,993.6 82,991.4 84.1,990.1 86.1,990.1 88.2,990.8 90.3,991.9 92.4,993.5 94.5,995.2 96.6,997.1 98.7,998.9 100.8,1000.6 102.9,1002.3 104.9,1004 107,1005.7 109.1,1007.6 111.2,1009.5 113.3,1011.4 115.4,1013.4 117.5,1015.4 119.6,1017.6 121.6,1019.7 123.7,1022 125.8,1024.2 127.9,1026.6 130,1029" fill="none" stroke="#d8f51e" stroke-opacity="0.72" stroke-width="5" stroke-linejoin="round"/>
<polyline points="59,1024 60.6,1021.4 62.1,1018.6 63.7,1015.7 65.3,1012.7 66.8,1009.7 68.4,1006.7 70,1003.8 71.5,1001.1 73.1,998.5 74.7,996.2 76.2,994.1 77.8,992.5 79.4,991.2 80.9,990.4 82.5,990 84.1,990.1 85.6,990.6 87.2,991.6 88.8,993 90.3,994.8 91.9,996.9 93.5,999.2 95,1001.8 96.6,1004.5 98.2,1007.4 99.7,1010.2 101.3,1013.1 102.9,1015.8 104.4,1018.5 106,1021" fill="none" stroke="#d8f51e" stroke-opacity="0.72" stroke-width="3.6" stroke-linejoin="round" stroke-dasharray="4 2.5"/>
<polyline points="86,1021 88,1018.1 90.1,1015.4 92.1,1012.6 94.2,1010 96.2,1007.5 98.3,1005 100.3,1002.6 102.4,1000 104.4,997.1 106.5,994.4 108.5,992.1 110.6,990.5 112.6,990 114.7,990.3 116.7,991 118.8,992.1 120.8,993.5 122.9,995.1 124.9,996.9 127,998.7 129,1000.5 131.1,1002.2 133.1,1003.8 135.2,1005.1 137.2,1006.3 139.2,1007.5 141.3,1008.7 143.3,1009.8 145.4,1011 147.4,1012.1 149.5,1013.2 151.5,1014.2 153.6,1015.2 155.6,1016.2 157.7,1017.1 159.7,1017.9 161.8,1018.7 163.8,1019.4 165.9,1020.2 167.9,1020.9 170,1021.6 172,1022.3 174.1,1022.9 176.1,1023.6 178.2,1024.2 180.2,1024.8 182.3,1025.3 184.3,1025.8 186.4,1026.3 188.4,1026.7 190.5,1027.1 192.5,1027.5" fill="none" stroke="#3cf5a0" stroke-opacity="0.66" stroke-width="5" stroke-linejoin="round"/>
<polyline points="88,1022 89.6,1019.3 91.1,1016.4 92.7,1013.4 94.3,1010.3 95.8,1007.3 97.4,1004.2 99,1001.3 100.5,998.6 102.1,996.2 103.7,994.1 105.2,992.3 106.8,991.1 108.4,990.3 109.9,990 111.5,990.2 113.1,990.8 114.6,991.8 116.2,993.1 117.8,994.8 119.3,996.7 120.9,999 122.5,1001.4 124,1004 125.6,1006.7 127.2,1009.4 128.7,1012.2 130.3,1014.9 131.9,1017.5 133.4,1020.1 135,1022.5" fill="none" stroke="#3cf5a0" stroke-opacity="0.66" stroke-width="3.6" stroke-linejoin="round" stroke-dasharray="4 2.5"/>
<polyline points="110,1022.5 112,1019.9 114.1,1017.4 116.1,1015 118.1,1012.7 120.2,1010.5 122.2,1008.4 124.2,1006.4 126.3,1004.5 128.3,1002.8 130.3,1001 132.4,999.2 134.4,997.3 136.4,995.6 138.5,993.9 140.5,992.5 142.5,991.3 144.6,990.5 146.6,990 148.6,990.1 150.7,990.5 152.7,991.3 154.7,992.4 156.8,993.7 158.8,995.2 160.8,996.7 162.9,998.3 164.9,999.8 166.9,1001.2 169,1002.5 171,1003.5 173,1004.4 175,1005.3 177.1,1006.2 179.1,1007 181.1,1007.8 183.2,1008.6 185.2,1009.4 187.2,1010.2 189.3,1011 191.3,1011.7 193.3,1012.5 195.4,1013.3 197.4,1014 199.4,1014.8 201.5,1015.6 203.5,1016.3 205.5,1017.1 207.6,1017.9 209.6,1018.6 211.6,1019.4 213.7,1020.2 215.7,1020.9 217.7,1021.7 219.8,1022.4 221.8,1023.1 223.8,1023.9 225.9,1024.6 227.9,1025.3 229.9,1026.1 232,1026.8 234,1027.5" fill="none" stroke="#3848f0" stroke-opacity="0.66" stroke-width="5" stroke-linejoin="round"/>
<polyline points="121,1021 122.5,1018.3 124.1,1015.5 125.7,1012.6 127.2,1009.6 128.8,1006.5 130.3,1003.6 131.8,1000.7 133.4,998.1 134.9,995.7 136.5,993.7 138.1,992.1 139.6,990.9 141.2,990.2 142.7,990 144.2,990.3 145.8,990.9 147.3,991.9 148.9,993.3 150.4,995 152,997 153.6,999.2 155.1,1001.6 156.7,1004.2 158.2,1006.8 159.8,1009.6 161.3,1012.3 162.8,1015 164.4,1017.6 165.9,1020.1 167.5,1022.5" fill="none" stroke="#3848f0" stroke-opacity="0.66" stroke-width="3.6" stroke-linejoin="round" stroke-dasharray="4 2.5"/>
<polyline points="51,1090 52.6,1085.9 54.2,1081.5 55.8,1076.9 57.4,1072.3 59,1067.8 60.6,1063.7 62.2,1060 63.8,1057.1 65.4,1055 67,1053.8 68.5,1053.7 70.1,1054.6 71.7,1056.6 73.3,1059.5 74.9,1063.2 76.5,1067.5 78.1,1072.2 79.7,1077.1 81.3,1082 82.9,1086.6 84.5,1091" fill="none" stroke="#ff1a40" stroke-opacity="0.7" stroke-width="5" stroke-linejoin="round"/>
<polyline points="52,1089 53.6,1085.1 55.1,1080.9 56.7,1076.5 58.3,1072.1 59.9,1067.8 61.4,1063.7 63,1060.2 64.6,1057.3 66.1,1055.2 67.7,1053.9 69.3,1053.6 70.9,1054.4 72.4,1056.2 74,1059 75.6,1062.6 77.1,1066.8 78.7,1071.4 80.3,1076.3 81.9,1081.1 83.4,1085.7 85,1090" fill="none" stroke="#ff1a40" stroke-opacity="0.7" stroke-width="3.6" stroke-linejoin="round" stroke-dasharray="4 2.5"/>
<polyline points="65,1090 66.6,1085.9 68.2,1081.5 69.8,1076.9 71.4,1072.3 73,1067.8 74.6,1063.7 76.2,1060 77.8,1057.1 79.4,1055 81,1053.8 82.6,1053.6 84.1,1054.3 85.7,1055.7 87.3,1057.8 88.9,1060.5 90.5,1063.8 92.1,1067.4 93.7,1071.3 95.3,1075.4 96.9,1079.5 98.5,1083.5 100.1,1087.4 101.7,1091" fill="none" stroke="#d8f51e" stroke-opacity="0.72" stroke-width="5" stroke-linejoin="round"/>
<polyline points="72,1089 73.6,1085.1 75.3,1081 76.9,1076.7 78.6,1072.3 80.2,1068.1 81.8,1064.1 83.5,1060.6 85.1,1057.6 86.7,1055.4 88.4,1054.1 90,1053.6 91.7,1054.1 93.3,1055.7 94.9,1058.2 96.6,1061.5 98.2,1065.4 99.8,1069.7 101.5,1074.2 103.1,1078.7 104.8,1083 106.4,1087" fill="none" stroke="#d8f51e" stroke-opacity="0.72" stroke-width="3.6" stroke-linejoin="round" stroke-dasharray="4 2.5"/>
<polyline points="95.5,1089.5 97,1086.8 98.6,1083.9 100.1,1080.9 101.7,1077.8 103.2,1074.7 104.8,1071.6 106.3,1068.6 107.9,1065.7 109.4,1063 111,1060.6 112.5,1058.4 114.1,1056.6 115.6,1055.2 117.2,1054.2 118.7,1053.7 120.2,1053.6 121.8,1054 123.3,1054.8 124.9,1056 126.4,1057.6 128,1059.5 129.5,1061.7 131.1,1064.2 132.6,1066.9 134.2,1069.8 135.7,1072.7 137.3,1075.7 138.8,1078.7 140.4,1081.7 141.9,1084.6 143.5,1087.4 145,1090" fill="none" stroke="#3cf5a0" stroke-opacity="0.66" stroke-width="5" stroke-linejoin="round"/>
<polyline points="110,1085.6 111.6,1082.9 113.1,1080 114.7,1077 116.3,1073.9 117.9,1070.8 119.4,1067.8 121,1064.9 122.6,1062.2 124.1,1059.7 125.7,1057.6 127.3,1055.9 128.9,1054.6 130.4,1053.9 132,1053.6 133.6,1053.9 135.1,1054.8 136.7,1056.2 138.3,1058.2 139.9,1060.5 141.4,1063.3 143,1066.4 144.6,1069.7 146.1,1073.2 147.7,1076.7 149.3,1080.2 150.9,1083.6 152.4,1086.9 154,1090" fill="none" stroke="#3cf5a0" stroke-opacity="0.66" stroke-width="3.6" stroke-linejoin="round" stroke-dasharray="4 2.5"/>
<polyline points="128,1088.4 129.6,1086.4 131.1,1084.4 132.7,1082.3 134.2,1080.1 135.8,1077.9 137.3,1075.6 138.9,1073.4 140.5,1071.2 142,1069 143.6,1066.8 145.1,1064.8 146.7,1062.8 148.2,1061 149.8,1059.4 151.4,1057.9 152.9,1056.6 154.5,1055.5 156,1054.7 157.6,1054.1 159.1,1053.7 160.7,1053.6 162.3,1053.7 163.8,1054.1 165.4,1054.8 166.9,1055.6 168.5,1056.7 170,1058 171.6,1059.5 173.2,1061.2 174.7,1063 176.3,1064.9 177.8,1067 179.4,1069.1 180.9,1071.3 182.5,1073.5 184.1,1075.7 185.6,1078 187.2,1080.2 188.7,1082.3 190.3,1084.4 191.8,1086.5 193.4,1088.4" fill="none" stroke="#3848f0" stroke-opacity="0.66" stroke-width="5" stroke-linejoin="round"/>
<polyline points="156,1087 157.6,1084.5 159.1,1081.9 160.7,1079.2 162.2,1076.4 163.8,1073.6 165.4,1070.8 166.9,1068 168.5,1065.4 170.1,1062.9 171.6,1060.6 173.2,1058.6 174.7,1056.8 176.3,1055.5 177.9,1054.4 179.4,1053.8 181,1053.6 182.5,1053.8 184.1,1054.6 185.7,1055.8 187.2,1057.4 188.8,1059.4 190.3,1061.8 191.9,1064.4 193.5,1067.3 195,1070.3 196.6,1073.4 198.2,1076.6 199.7,1079.7 201.3,1082.7 202.8,1085.6 204.4,1088.4" fill="none" stroke="#3848f0" stroke-opacity="0.66" stroke-width="3.6" stroke-linejoin="round" stroke-dasharray="4 2.5"/>
<polyline points="56.4,1155 58.1,1148.5 59.7,1141.5 61.4,1134.4 63.1,1128 64.7,1122.8 66.4,1119.4 68.1,1118.3 69.7,1119.3 71.4,1122 73.1,1126.1 74.7,1131.3 76.4,1137.3 78.1,1143.4 79.7,1149.4 81.4,1155" fill="none" stroke="#ff1a40" stroke-opacity="0.7" stroke-width="5" stroke-linejoin="round"/>
<polyline points="57,1154 58.7,1147.9 60.3,1141.3 62,1134.7 63.7,1128.5 65.3,1123.4 67,1119.9 68.7,1118.3 70.3,1118.9 72,1121.3 73.7,1125.2 75.3,1130.3 77,1136.2 78.7,1142.4 80.3,1148.4 82,1154" fill="none" stroke="#ff1a40" stroke-opacity="0.7" stroke-width="3.6" stroke-linejoin="round" stroke-dasharray="4 2.5"/>
<polyline points="65.8,1155 67.5,1149.7 69.1,1144 70.8,1138.1 72.4,1132.4 74.1,1127.3 75.8,1123 77.4,1120 79.1,1118.5 80.7,1118.6 82.4,1120.2 84,1123.3 85.7,1127.6 87.4,1132.7 89,1138.4 90.7,1144.2 92.3,1149.8 94,1155" fill="none" stroke="#d8f51e" stroke-opacity="0.72" stroke-width="5" stroke-linejoin="round"/>
<polyline points="70,1153 71.6,1148 73.2,1142.6 74.9,1137.1 76.5,1131.7 78.1,1126.8 79.8,1122.8 81.4,1119.9 83,1118.5 84.6,1118.6 86.2,1120.6 87.9,1124.4 89.5,1129.5 91.1,1135.6 92.8,1141.9 94.4,1148.2 96,1154" fill="none" stroke="#d8f51e" stroke-opacity="0.72" stroke-width="3.6" stroke-linejoin="round" stroke-dasharray="4 2.5"/>
<polyline points="87.7,1155 89.3,1150.8 90.8,1146.2 92.4,1141.5 93.9,1136.8 95.5,1132.2 97.1,1128 98.6,1124.4 100.2,1121.4 101.7,1119.4 103.3,1118.4 104.9,1118.4 106.4,1118.8 108,1119.7 109.5,1121 111.1,1122.7 112.6,1124.8 114.2,1127.1 115.8,1129.8 117.3,1132.6 118.9,1135.6 120.4,1138.6 122,1141.8 123.6,1144.9 125.1,1148 126.7,1151 128.2,1153.9 129.8,1156.6" fill="none" stroke="#3cf5a0" stroke-opacity="0.66" stroke-width="5" stroke-linejoin="round"/>
<polyline points="97.8,1150 99.4,1145.3 101,1140.3 102.6,1135.1 104.2,1130.1 105.8,1125.6 107.4,1121.9 109,1119.4 110.6,1118.3 112.2,1118.7 113.8,1120.4 115.4,1123.4 117,1127.3 118.6,1132 120.2,1137.1 121.8,1142.3 123.4,1147.3 125,1152" fill="none" stroke="#3cf5a0" stroke-opacity="0.66" stroke-width="3.6" stroke-linejoin="round" stroke-dasharray="4 2.5"/>
<polyline points="107.8,1154 109.4,1151.5 111,1148.9 112.6,1146.2 114.1,1143.5 115.7,1140.7 117.3,1137.8 118.9,1135.1 120.5,1132.4 122.1,1129.8 123.7,1127.4 125.3,1125.1 126.8,1123.2 128.4,1121.5 130,1120.2 131.6,1119.2 133.2,1118.5 134.8,1118.3 136.4,1118.5 138,1119.2 139.6,1120.4 141.1,1122 142.7,1124.1 144.3,1126.5 145.9,1129.2 147.5,1132.2 149.1,1135.3 150.7,1138.5 152.2,1141.8 153.8,1145 155.4,1148.1 157,1151.1 158.6,1154" fill="none" stroke="#3848f0" stroke-opacity="0.66" stroke-width="5" stroke-linejoin="round"/>
<polyline points="126.6,1149.5 128.2,1146.3 129.8,1142.9 131.4,1139.4 133,1135.8 134.6,1132.3 136.2,1128.9 137.7,1125.8 139.3,1123.1 140.9,1121 142.5,1119.4 144.1,1118.5 145.7,1118.3 147.3,1118.9 148.9,1120.2 150.5,1122.1 152.1,1124.6 153.7,1127.7 155.2,1131.1 156.8,1134.8 158.4,1138.6 160,1142.5 161.6,1146.3 163.2,1150 164.8,1153.4" fill="none" stroke="#3848f0" stroke-opacity="0.66" stroke-width="3.6" stroke-linejoin="round" stroke-dasharray="4 2.5"/>
<text x="479.7" y="632" font-family="Liberation Serif" font-weight="bold" font-size="24" textLength="26.7" lengthAdjust="spacingAndGlyphs">MI</text>
<text x="474" y="697" font-family="Liberation Serif" font-weight="bold" font-size="24" textLength="38" lengthAdjust="spacingAndGlyphs">ITY</text>
<text x="474" y="762" font-family="Liberation Serif" font-weight="bold" font-size="24" textLength="38.6" lengthAdjust="spacingAndGlyphs">ITX</text>
<text x="474" y="827" font-family="Liberation Serif" font-weight="bold" font-size="24" textLength="39.4" lengthAdjust="spacingAndGlyphs">MIT</text>
<text x="470" y="892" font-family="Liberation Serif" font-weight="bold" font-size="24" textLength="45.4" lengthAdjust="spacingAndGlyphs">DTE</text>
<text x="454" y="956" font-family="Liberation Serif" font-weight="bold" font-size="24" textLength="29" lengthAdjust="spacingAndGlyphs">TE</text><text x="484" y="947" font-family="Liberation Serif" font-style="italic" font-size="14" textLength="6" lengthAdjust="spacingAndGlyphs">τ</text><text x="489" y="952" font-family="Liberation Serif" font-weight="bold" font-size="11" textLength="19.5" lengthAdjust="spacingAndGlyphs">max</text><text x="510.5" y="949" font-family="Liberation Serif" font-size="15" stroke="#000" stroke-width="0.3" textLength="20.5" lengthAdjust="spacingAndGlyphs">=4</text>
<text x="454" y="1021" font-family="Liberation Serif" font-weight="bold" font-size="24" textLength="29" lengthAdjust="spacingAndGlyphs">TE</text><text x="484" y="1012" font-family="Liberation Serif" font-style="italic" font-size="14" textLength="6" lengthAdjust="spacingAndGlyphs">τ</text><text x="489" y="1017" font-family="Liberation Serif" font-weight="bold" font-size="11" textLength="19.5" lengthAdjust="spacingAndGlyphs">max</text><text x="510.5" y="1014" font-family="Liberation Serif" font-size="15" stroke="#000" stroke-width="0.3" textLength="20.5" lengthAdjust="spacingAndGlyphs">=6</text>
<text x="440" y="1086" font-family="Liberation Serif" font-weight="bold" font-size="24" textLength="55" lengthAdjust="spacingAndGlyphs">LINK</text><text x="496" y="1077" font-family="Liberation Serif" font-style="italic" font-size="14" textLength="6" lengthAdjust="spacingAndGlyphs">τ</text><text x="501" y="1082" font-family="Liberation Serif" font-weight="bold" font-size="11" textLength="19.5" lengthAdjust="spacingAndGlyphs">max</text><text x="522.5" y="1079" font-family="Liberation Serif" font-size="15" stroke="#000" stroke-width="0.3" textLength="20.5" lengthAdjust="spacingAndGlyphs">=4</text>
<text x="440" y="1150.5" font-family="Liberation Serif" font-weight="bold" font-size="24" textLength="55" lengthAdjust="spacingAndGlyphs">LINK</text><text x="496" y="1141.5" font-family="Liberation Serif" font-style="italic" font-size="14" textLength="6" lengthAdjust="spacingAndGlyphs">τ</text><text x="501" y="1146.5" font-family="Liberation Serif" font-weight="bold" font-size="11" textLength="19.5" lengthAdjust="spacingAndGlyphs">max</text><text x="522.5" y="1143.5" font-family="Liberation Serif" font-size="15" stroke="#000" stroke-width="0.3" textLength="20.5" lengthAdjust="spacingAndGlyphs">=6</text>
<rect x="27" y="1177.8" width="584.5" height="2.8" fill="#000"/>
<rect x="69" y="1168.5" width="2" height="10" fill="#000"/>
<text x="71.5" y="1202" font-family="Liberation Sans" font-weight="bold" font-size="17" text-anchor="middle" stroke="#000" stroke-width="0.5" textLength="24" lengthAdjust="spacingAndGlyphs">0.0</text>
<rect x="152.1" y="1168.5" width="2" height="10" fill="#000"/>
<text x="154.6" y="1202" font-family="Liberation Sans" font-weight="bold" font-size="17" text-anchor="middle" stroke="#000" stroke-width="0.5" textLength="24" lengthAdjust="spacingAndGlyphs">0.1</text>
<rect x="235.2" y="1168.5" width="2" height="10" fill="#000"/>
<text x="237.7" y="1202" font-family="Liberation Sans" font-weight="bold" font-size="17" text-anchor="middle" stroke="#000" stroke-width="0.5" textLength="24" lengthAdjust="spacingAndGlyphs">0.2</text>
<rect x="318.2" y="1168.5" width="2" height="10" fill="#000"/>
<text x="320.7" y="1202" font-family="Liberation Sans" font-weight="bold" font-size="17" text-anchor="middle" stroke="#000" stroke-width="0.5" textLength="24" lengthAdjust="spacingAndGlyphs">0.3</text>
<rect x="401.3" y="1168.5" width="2" height="10" fill="#000"/>
<text x="403.8" y="1202" font-family="Liberation Sans" font-weight="bold" font-size="17" text-anchor="middle" stroke="#000" stroke-width="0.5" textLength="24" lengthAdjust="spacingAndGlyphs">0.4</text>
<rect x="484.4" y="1168.5" width="2" height="10" fill="#000"/>
<text x="486.9" y="1202" font-family="Liberation Sans" font-weight="bold" font-size="17" text-anchor="middle" stroke="#000" stroke-width="0.5" textLength="24" lengthAdjust="spacingAndGlyphs">0.5</text>
<rect x="567.5" y="1168.5" width="2" height="10" fill="#000"/>
<text x="570" y="1202" font-family="Liberation Sans" font-weight="bold" font-size="17" text-anchor="middle" stroke="#000" stroke-width="0.5" textLength="24" lengthAdjust="spacingAndGlyphs">0.6</text>
<text x="302" y="1234" font-family="Liberation Sans" font-size="21" stroke="#000" stroke-width="0.5" textLength="48" lengthAdjust="spacingAndGlyphs">[nat]</text>
<text x="283" y="1236" font-family="Liberation Serif" font-style="italic" font-size="20" stroke="#000" stroke-width="0.5" textLength="11" lengthAdjust="spacingAndGlyphs">I</text>
<path d="M284,1221.5 Q290,1214.5 296,1221.5" fill="none" stroke="#000" stroke-width="1.5"/>
</svg></body></html>
